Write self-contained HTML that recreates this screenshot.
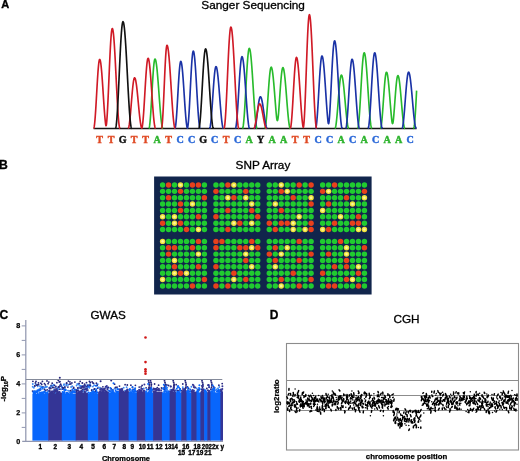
<!DOCTYPE html><html><head><meta charset="utf-8"><style>html,body{margin:0;padding:0;background:#fff;}svg{display:block;will-change:transform;}text{font-family:"Liberation Sans",sans-serif;}.sf{font-family:"Liberation Serif",serif;}</style></head><body>
<svg width="520" height="461" viewBox="0 0 520 461">
<rect width="520" height="461" fill="#fff"/>
<text x="1.3" y="8.1" font-size="11" font-weight="bold" fill="#000" stroke="#000" stroke-width="0.35">A</text>
<text x="-0.9" y="168.8" font-size="12.2" font-weight="bold" fill="#000" stroke="#000" stroke-width="0.3">B</text>
<text x="-0.4" y="319.1" font-size="12.1" font-weight="bold" fill="#000" stroke="#000" stroke-width="0.3">C</text>
<text x="269.7" y="319.1" font-size="12" font-weight="bold" fill="#000" stroke="#000" stroke-width="0.3">D</text>
<text x="201.3" y="9.2" font-size="11" textLength="103.6" lengthAdjust="spacingAndGlyphs" fill="#000" stroke="#000" stroke-width="0.3">Sanger Sequencing</text>
<text x="235.6" y="168.5" font-size="11.1" textLength="54.7" lengthAdjust="spacingAndGlyphs" fill="#000" stroke="#000" stroke-width="0.3">SNP Array</text>
<text x="90.5" y="319.1" font-size="11" textLength="35.3" lengthAdjust="spacingAndGlyphs" fill="#000" stroke="#000" stroke-width="0.3">GWAS</text>
<text x="393.4" y="323.4" font-size="11.6" textLength="26.2" lengthAdjust="spacingAndGlyphs" fill="#000" stroke="#000" stroke-width="0.3">CGH</text>
<line x1="93.6" y1="128.5" x2="416.6" y2="128.5" stroke="#161616" stroke-width="1.6"/>
<path d="M148.80 128.50L149.00 128.32L149.20 127.79L149.40 126.91L149.60 125.68L149.80 124.13L150.00 122.27L150.20 120.12L150.40 117.69L150.60 115.02L150.80 112.13L151.00 109.05L151.20 105.82L151.40 102.46L151.60 99.01L151.80 95.51L152.00 91.99L152.20 88.49L152.40 85.04L152.60 81.68L152.80 78.45L153.00 75.37L153.20 72.48L153.40 69.81L153.60 67.38L153.80 65.23L154.00 63.37L154.20 61.82L154.40 60.59L154.60 59.71L154.80 59.18L155.00 59.00L155.20 59.11L155.40 59.43L155.60 59.96L155.80 60.70L156.00 61.65L156.20 62.79L156.40 64.12L156.60 65.64L156.80 67.33L157.00 69.18L157.20 71.18L157.40 73.32L157.60 75.59L157.80 77.97L158.00 80.45L158.20 83.01L158.40 85.64L158.60 88.31L158.80 91.02L159.00 93.75L159.20 96.48L159.40 99.19L159.60 101.86L159.80 104.49L160.00 107.05L160.20 109.53L160.40 111.91L160.60 114.18L160.80 116.32L161.00 118.32L161.20 120.17L161.40 121.86L161.60 123.38L161.80 124.71L162.00 125.85L162.20 126.80L162.40 127.54L162.60 128.07L162.80 128.39L163.00 128.50M242.40 128.50L242.60 128.36L242.80 127.89L243.00 127.09L243.20 125.98L243.40 124.54L243.60 122.81L243.80 120.79L244.00 118.50L244.20 115.96L244.40 113.20L244.60 110.22L244.80 107.07L245.00 103.76L245.20 100.32L245.40 96.78L245.60 93.17L245.80 89.53L246.00 85.87L246.20 82.24L246.40 78.66L246.60 75.16L246.80 71.77L247.00 68.52L247.20 65.44L247.40 62.54L247.60 59.87L247.80 57.43L248.00 55.25L248.20 53.34L248.40 51.73L248.60 50.43L248.80 49.44L249.00 48.77L249.20 48.44L249.40 48.43L249.60 48.68L249.80 49.19L250.00 49.93L250.20 50.93L250.40 52.15L250.60 53.61L250.80 55.29L251.00 57.17L251.20 59.25L251.40 61.52L251.60 63.95L251.80 66.54L252.00 69.27L252.20 72.11L252.40 75.06L252.60 78.10L252.80 81.20L253.00 84.34L253.20 87.51L253.40 90.69L253.60 93.85L253.80 96.98L254.00 100.06L254.20 103.06L254.40 105.97L254.60 108.77L254.80 111.44L255.00 113.97L255.20 116.33L255.40 118.52L255.60 120.53L255.80 122.33L256.00 123.91L256.20 125.28L256.40 126.41L256.60 127.30L256.80 127.95L257.00 128.35L257.20 128.50M264.80 128.50L265.00 128.16L265.20 127.58L265.40 126.72L265.60 125.59L265.80 124.21L266.00 122.58L266.20 120.72L266.40 118.64L266.60 116.38L266.80 113.94L267.00 111.35L267.20 108.63L267.40 105.82L267.60 102.93L267.80 99.99L268.00 97.04L268.20 94.09L268.40 91.17L268.60 88.32L268.80 85.56L269.00 82.91L269.20 80.40L269.40 78.05L269.60 75.89L269.80 73.93L270.00 72.20L270.20 70.70L270.40 69.46L270.60 68.48L270.80 67.77L271.00 67.34L271.20 67.20L271.40 67.31L271.60 67.63L271.80 68.17L272.00 68.91L272.20 69.86L272.40 71.00L272.60 72.33L272.80 73.85L273.00 75.53L273.20 77.37L273.40 79.35L273.60 81.46L273.80 83.69L274.00 86.02L274.20 88.43L274.40 90.90L274.60 93.43L274.80 95.99L275.00 98.56L275.20 101.12L275.40 103.66L275.60 106.17L275.80 108.61L276.00 110.97L276.20 113.25L276.40 115.42L276.60 117.30L276.80 118.77L277.00 119.81L277.20 120.41L277.40 120.58L277.60 120.31L277.80 119.61L278.00 118.49L278.20 116.96L278.40 115.04L278.60 112.74L278.80 110.13L279.00 107.38L279.20 104.54L279.40 101.64L279.60 98.71L279.80 95.77L280.00 92.86L280.20 89.99L280.40 87.20L280.60 84.51L280.80 81.94L281.00 79.53L281.20 77.28L281.40 75.24L281.60 73.40L281.80 71.79L282.00 70.43L282.20 69.32L282.40 68.48L282.60 67.92L282.80 67.64L283.00 67.63L283.20 67.84L283.40 68.27L283.60 68.90L283.80 69.74L284.00 70.78L284.20 72.02L284.40 73.43L284.60 75.02L284.80 76.77L285.00 78.67L285.20 80.70L285.40 82.86L285.60 85.13L285.80 87.48L286.00 89.91L286.20 92.40L286.40 94.93L286.60 97.48L286.80 100.03L287.00 102.57L287.20 105.07L287.40 107.53L287.60 109.92L287.80 112.23L288.00 114.44L288.20 116.53L288.40 118.49L288.60 120.31L288.80 121.98L289.00 123.47L289.20 124.79L289.40 125.91L289.60 126.84L289.80 127.57L290.00 128.09L290.20 128.40L290.40 128.50M335.00 128.50L335.20 128.20L335.40 127.70L335.60 126.95L335.80 125.97L336.00 124.76L336.20 123.34L336.40 121.72L336.60 119.91L336.80 117.94L337.00 115.81L337.20 113.56L337.40 111.19L337.60 108.74L337.80 106.22L338.00 103.67L338.20 101.09L338.40 98.52L338.60 95.98L338.80 93.50L339.00 91.09L339.20 88.79L339.40 86.60L339.60 84.56L339.80 82.67L340.00 80.97L340.20 79.45L340.40 78.15L340.60 77.07L340.80 76.21L341.00 75.60L341.20 75.22L341.40 75.10L341.60 75.19L341.80 75.47L342.00 75.94L342.20 76.59L342.40 77.41L342.60 78.41L342.80 79.57L343.00 80.89L343.20 82.35L343.40 83.96L343.60 85.68L343.80 87.52L344.00 89.46L344.20 91.49L344.40 93.59L344.60 95.75L344.80 97.95L345.00 100.18L345.20 102.42L345.40 104.65L345.60 106.86L345.80 109.04L346.00 111.17L346.20 113.23L346.40 115.21L346.60 117.10L346.80 118.88L347.00 120.54L347.20 122.07L347.40 123.45L347.60 124.69L347.80 125.76L348.00 126.66L348.20 127.39L348.40 127.94L348.60 128.30L348.80 128.50M357.60 128.50L357.80 128.14L358.00 127.48L358.20 126.50L358.40 125.20L358.60 123.61L358.80 121.72L359.00 119.55L359.20 117.14L359.40 114.49L359.60 111.63L359.80 108.58L360.00 105.38L360.20 102.05L360.40 98.62L360.60 95.11L360.80 91.57L361.00 88.02L361.20 84.50L361.40 81.03L361.60 77.64L361.80 74.36L362.00 71.24L362.20 68.28L362.40 65.51L362.60 62.97L362.80 60.68L363.00 58.64L363.20 56.89L363.40 55.43L363.60 54.29L363.80 53.46L364.00 52.97L364.20 52.80L364.40 52.93L364.60 53.30L364.80 53.93L365.00 54.80L365.20 55.90L365.40 57.24L365.60 58.80L365.80 60.57L366.00 62.55L366.20 64.71L366.40 67.04L366.60 69.53L366.80 72.15L367.00 74.91L367.20 77.76L367.40 80.70L367.60 83.71L367.80 86.77L368.00 89.85L368.20 92.93L368.40 96.00L368.60 99.04L368.80 102.02L369.00 104.92L369.20 107.73L369.40 110.42L369.60 112.99L369.80 115.40L370.00 117.65L370.20 119.72L370.40 121.60L370.60 123.27L370.80 124.73L371.00 125.96L371.20 126.95L371.40 127.70L371.60 128.21L371.80 128.50M380.40 128.50L380.60 128.29L380.80 127.80L381.00 127.01L381.20 125.95L381.40 124.62L381.60 123.04L381.80 121.21L382.00 119.17L382.20 116.94L382.40 114.52L382.60 111.97L382.80 109.28L383.00 106.51L383.20 103.67L383.40 100.80L383.60 97.92L383.80 95.07L384.00 92.27L384.20 89.55L384.40 86.95L384.60 84.49L384.80 82.20L385.00 80.10L385.20 78.20L385.40 76.54L385.60 75.13L385.80 73.99L386.00 73.12L386.20 72.53L386.40 72.24L386.60 72.23L386.80 72.45L387.00 72.89L387.20 73.55L387.40 74.43L387.60 75.50L387.80 76.78L388.00 78.24L388.20 79.87L388.40 81.67L388.60 83.62L388.80 85.69L389.00 87.89L389.20 90.18L389.40 92.55L389.60 94.99L389.80 97.46L390.00 99.96L390.20 102.46L390.40 104.95L390.60 107.40L390.80 109.79L391.00 112.11L391.20 114.34L391.40 116.45L391.60 118.44L391.80 120.28L392.00 121.78L392.20 122.83L392.40 123.42L392.60 123.57L392.80 123.25L393.00 122.49L393.20 121.29L393.40 119.66L393.60 117.63L393.80 115.37L394.00 112.96L394.20 110.44L394.40 107.84L394.60 105.17L394.80 102.47L395.00 99.76L395.20 97.08L395.40 94.46L395.60 91.91L395.80 89.46L396.00 87.15L396.20 85.00L396.40 83.02L396.60 81.24L396.80 79.68L397.00 78.36L397.20 77.28L397.40 76.46L397.60 75.91L397.80 75.63L398.00 75.63L398.20 75.84L398.40 76.25L398.60 76.87L398.80 77.69L399.00 78.70L399.20 79.90L399.40 81.27L399.60 82.81L399.80 84.50L400.00 86.33L400.20 88.28L400.40 90.34L400.60 92.49L400.80 94.72L401.00 97.01L401.20 99.34L401.40 101.69L401.60 104.04L401.80 106.37L402.00 108.67L402.20 110.92L402.40 113.10L402.60 115.19L402.80 117.18L403.00 119.05L403.20 120.78L403.40 122.37L403.60 123.79L403.80 125.04L404.00 126.11L404.20 126.99L404.40 127.68L404.60 128.16L404.80 128.43L405.00 128.50M413.40 128.50L413.60 128.44L413.80 128.04L414.00 127.27L414.20 126.13L414.40 124.63L414.60 122.79L414.80 120.62L415.00 118.15L415.20 115.39L415.40 112.38L415.60 109.14L415.80 105.70L416.00 102.09L416.20 98.34L416.40 94.50L416.60 90.60" fill="none" stroke="#28bb2c" stroke-width="1.65" stroke-linejoin="round"/>
<path d="M174.80 128.50L175.00 128.39L175.20 127.92L175.40 127.09L175.60 125.89L175.80 124.35L176.00 122.49L176.20 120.31L176.40 117.86L176.60 115.15L176.80 112.21L177.00 109.09L177.20 105.80L177.40 102.40L177.60 98.91L177.80 95.37L178.00 91.84L178.20 88.34L178.40 84.91L178.60 81.59L178.80 78.42L179.00 75.44L179.20 72.67L179.40 70.15L179.60 67.91L179.80 65.97L180.00 64.35L180.20 63.07L180.40 62.14L180.60 61.59L180.80 61.40L181.00 61.54L181.20 61.96L181.40 62.66L181.60 63.63L181.80 64.87L182.00 66.36L182.20 68.09L182.40 70.04L182.60 72.20L182.80 74.56L183.00 77.09L183.20 79.76L183.40 82.57L183.60 85.48L183.80 88.47L184.00 91.51L184.20 94.58L184.40 97.66L184.60 100.71L184.80 103.71L185.00 106.64L185.20 109.48L185.40 112.18L185.60 114.75L185.80 117.15L186.00 119.36L186.20 121.37L186.40 123.15L186.60 124.70L186.80 125.99L187.00 127.03L187.20 127.79L187.40 128.17L187.60 127.87L187.80 126.96L188.00 125.64L188.20 123.93L188.40 121.85L188.60 119.42L188.80 116.68L189.00 113.65L189.20 110.36L189.40 106.84L189.60 103.15L189.80 99.31L190.00 95.36L190.20 91.36L190.40 87.34L190.60 83.34L190.80 79.42L191.00 75.61L191.20 71.95L191.40 68.48L191.60 65.25L191.80 62.28L192.00 59.60L192.20 57.25L192.40 55.26L192.60 53.63L192.80 52.40L193.00 51.57L193.20 51.15L193.40 51.14L193.60 51.45L193.80 52.08L194.00 53.02L194.20 54.25L194.40 55.78L194.60 57.58L194.80 59.65L195.00 61.96L195.20 64.50L195.40 67.24L195.60 70.17L195.80 73.26L196.00 76.49L196.20 79.82L196.40 83.23L196.60 86.70L196.80 90.19L197.00 93.68L197.20 97.14L197.40 100.54L197.60 103.85L197.80 107.05L198.00 110.10L198.20 112.99L198.40 115.69L198.60 118.18L198.80 120.44L199.00 122.45L199.20 124.19L199.40 125.65L199.60 126.82L199.80 127.69L200.00 128.24L200.20 128.50M209.60 128.50L209.80 128.15L210.00 127.57L210.20 126.70L210.40 125.56L210.60 124.16L210.80 122.52L211.00 120.64L211.20 118.55L211.40 116.26L211.60 113.79L211.80 111.18L212.00 108.44L212.20 105.60L212.40 102.68L212.60 99.71L212.80 96.73L213.00 93.75L213.20 90.81L213.40 87.93L213.60 85.14L213.80 82.46L214.00 79.93L214.20 77.56L214.40 75.38L214.60 73.40L214.80 71.65L215.00 70.13L215.20 68.88L215.40 67.89L215.60 67.17L215.80 66.74L216.00 66.60L216.20 66.71L216.40 67.03L216.60 67.57L216.80 68.33L217.00 69.28L217.20 70.44L217.40 71.78L217.60 73.31L217.80 75.01L218.00 76.87L218.20 78.87L218.40 81.00L218.60 83.25L218.80 85.60L219.00 88.04L219.20 90.54L219.40 93.09L219.60 95.67L219.80 98.26L220.00 100.85L220.20 103.42L220.40 105.95L220.60 108.41L220.80 110.80L221.00 113.10L221.20 115.29L221.40 117.35L221.60 119.27L221.80 121.04L222.00 122.65L222.20 124.08L222.40 125.32L222.60 126.37L222.80 127.21L223.00 127.85L223.20 128.27L223.40 128.50M235.40 128.50L235.60 128.15L235.80 127.53L236.00 126.60L236.20 125.37L236.40 123.86L236.60 122.07L236.80 120.01L237.00 117.72L237.20 115.21L237.40 112.50L237.60 109.61L237.80 106.57L238.00 103.41L238.20 100.16L238.40 96.83L238.60 93.48L238.80 90.11L239.00 86.76L239.20 83.47L239.40 80.26L239.60 77.15L239.80 74.19L240.00 71.38L240.20 68.76L240.40 66.35L240.60 64.17L240.80 62.24L241.00 60.58L241.20 59.20L241.40 58.11L241.60 57.33L241.80 56.86L242.00 56.70L242.20 56.82L242.40 57.18L242.60 57.77L242.80 58.59L243.00 59.64L243.20 60.91L243.40 62.39L243.60 64.07L243.80 65.94L244.00 67.99L244.20 70.20L244.40 72.56L244.60 75.06L244.80 77.67L245.00 80.38L245.20 83.17L245.40 86.02L245.60 88.92L245.80 91.84L246.00 94.77L246.20 97.68L246.40 100.56L246.60 103.38L246.80 106.14L247.00 108.80L247.20 111.36L247.40 113.79L247.60 116.08L247.80 118.21L248.00 120.18L248.20 121.96L248.40 123.54L248.60 124.92L248.80 126.09L249.00 127.03L249.20 127.74L249.40 128.22L249.60 128.50M254.40 128.50L254.60 128.37L254.80 128.08L255.00 127.62L255.20 127.00L255.40 126.22L255.60 125.30L255.80 124.24L256.00 123.05L256.20 121.76L256.40 120.36L256.60 118.88L256.80 117.34L257.00 115.74L257.20 114.11L257.40 112.46L257.60 110.82L257.80 109.20L258.00 107.61L258.20 106.08L258.40 104.62L258.60 103.24L258.80 101.97L259.00 100.81L259.20 99.78L259.40 98.89L259.60 98.15L259.80 97.56L260.00 97.14L260.20 96.89L260.40 96.80L260.60 96.86L260.80 97.06L261.00 97.38L261.20 97.82L261.40 98.39L261.60 99.07L261.80 99.87L262.00 100.76L262.20 101.76L262.40 102.84L262.60 104.00L262.80 105.24L263.00 106.53L263.20 107.87L263.40 109.26L263.60 110.67L263.80 112.10L264.00 113.53L264.20 114.95L264.40 116.36L264.60 117.73L264.80 119.07L265.00 120.35L265.20 121.57L265.40 122.71L265.60 123.78L265.80 124.75L266.00 125.62L266.20 126.39L266.40 127.05L266.60 127.59L266.80 128.00L267.00 128.30L267.20 128.50M315.40 128.50L315.60 128.45L315.80 128.10L316.00 127.41L316.20 126.39L316.40 125.06L316.60 123.42L316.80 121.49L317.00 119.29L317.20 116.84L317.40 114.16L317.60 111.28L317.80 108.21L318.00 105.00L318.20 101.67L318.40 98.26L318.60 94.78L318.80 91.29L319.00 87.80L319.20 84.35L319.40 80.98L319.60 77.71L319.80 74.58L320.00 71.61L320.20 68.84L320.40 66.28L320.60 63.96L320.80 61.91L321.00 60.14L321.20 58.67L321.40 57.51L321.60 56.67L321.80 56.17L322.00 56.00L322.20 56.13L322.40 56.51L322.60 57.14L322.80 58.02L323.00 59.14L323.20 60.50L323.40 62.07L323.60 63.86L323.80 65.85L324.00 68.02L324.20 70.37L324.40 72.87L324.60 75.50L324.80 78.25L325.00 81.11L325.20 84.04L325.40 87.02L325.60 90.05L325.80 93.09L326.00 96.12L326.20 99.13L326.40 102.08L326.60 104.97L326.80 107.77L327.00 110.46L327.20 113.02L327.40 115.44L327.60 117.69L327.80 119.77L328.00 121.60L328.20 122.90L328.40 123.60L328.60 123.69L328.80 123.17L329.00 122.07L329.20 120.37L329.40 118.11L329.60 115.33L329.80 112.26L330.00 108.95L330.20 105.42L330.40 101.72L330.60 97.86L330.80 93.88L331.00 89.82L331.20 85.72L331.40 81.61L331.60 77.52L331.80 73.50L332.00 69.58L332.20 65.78L332.40 62.16L332.60 58.73L332.80 55.53L333.00 52.59L333.20 49.92L333.40 47.57L333.60 45.54L333.80 43.85L334.00 42.53L334.20 41.57L334.40 40.99L334.60 40.80L334.80 40.95L335.00 41.38L335.20 42.11L335.40 43.11L335.60 44.40L335.80 45.95L336.00 47.75L336.20 49.81L336.40 52.09L336.60 54.59L336.80 57.29L337.00 60.18L337.20 63.22L337.40 66.41L337.60 69.72L337.80 73.13L338.00 76.61L338.20 80.15L338.40 83.72L338.60 87.29L338.80 90.85L339.00 94.37L339.20 97.82L339.40 101.18L339.60 104.44L339.80 107.56L340.00 110.53L340.20 113.33L340.40 115.93L340.60 118.33L340.80 120.51L341.00 122.45L341.20 124.13L341.40 125.55L341.60 126.71L341.80 127.58L342.00 128.16L342.20 128.50M345.60 128.50L345.80 128.32L346.00 127.82L346.20 127.01L346.40 125.89L346.60 124.47L346.80 122.76L347.00 120.78L347.20 118.56L347.40 116.10L347.60 113.44L347.80 110.59L348.00 107.59L348.20 104.46L348.40 101.23L348.60 97.94L348.80 94.60L349.00 91.26L349.20 87.94L349.40 84.68L349.60 81.50L349.80 78.44L350.00 75.52L350.20 72.77L350.40 70.22L350.60 67.89L350.80 65.80L351.00 63.97L351.20 62.42L351.40 61.16L351.60 60.20L351.80 59.56L352.00 59.24L352.20 59.23L352.40 59.47L352.60 59.96L352.80 60.68L353.00 61.64L353.20 62.82L353.40 64.22L353.60 65.83L353.80 67.64L354.00 69.63L354.20 71.79L354.40 74.11L354.60 76.57L354.80 79.14L355.00 81.82L355.20 84.59L355.40 87.42L355.60 90.30L355.80 93.20L356.00 96.10L356.20 98.99L356.40 101.84L356.60 104.64L356.80 107.36L357.00 109.99L357.20 112.50L357.40 114.88L357.60 117.11L357.80 119.18L358.00 121.08L358.20 122.78L358.40 124.27L358.60 125.56L358.80 126.62L359.00 127.44L359.20 128.04L359.40 128.39L359.60 128.50M368.00 128.50L368.20 128.34L368.40 127.85L368.60 127.03L368.80 125.89L369.00 124.44L369.20 122.70L369.40 120.67L369.60 118.38L369.80 115.84L370.00 113.08L370.20 110.13L370.40 107.00L370.60 103.73L370.80 100.34L371.00 96.87L371.20 93.35L371.40 89.80L371.60 86.26L371.80 82.75L372.00 79.32L372.20 75.99L372.40 72.78L372.60 69.73L372.80 66.87L373.00 64.21L373.20 61.79L373.40 59.62L373.60 57.73L373.80 56.12L374.00 54.82L374.20 53.84L374.40 53.17L374.60 52.84L374.80 52.83L375.00 53.08L375.20 53.58L375.40 54.33L375.60 55.32L375.80 56.54L376.00 58.00L376.20 59.66L376.40 61.54L376.60 63.60L376.80 65.85L377.00 68.26L377.20 70.82L377.40 73.52L377.60 76.32L377.80 79.22L378.00 82.20L378.20 85.24L378.40 88.31L378.60 91.39L378.80 94.47L379.00 97.53L379.20 100.54L379.40 103.48L379.60 106.34L379.80 109.09L380.00 111.72L380.20 114.21L380.40 116.55L380.60 118.71L380.80 120.69L381.00 122.46L381.20 124.03L381.40 125.37L381.60 126.48L381.80 127.36L382.00 127.99L382.20 128.37L382.40 128.50M402.00 128.50L402.20 128.23L402.40 127.74L402.60 127.01L402.80 126.05L403.00 124.86L403.20 123.45L403.40 121.85L403.60 120.05L403.80 118.08L404.00 115.95L404.20 113.69L404.40 111.31L404.60 108.83L404.80 106.28L405.00 103.67L405.20 101.04L405.40 98.40L405.60 95.77L405.80 93.19L406.00 90.67L406.20 88.24L406.40 85.91L406.60 83.71L406.80 81.66L407.00 79.77L407.20 78.06L407.40 76.54L407.60 75.24L407.80 74.16L408.00 73.31L408.20 72.69L408.40 72.32L408.60 72.20L408.80 72.29L409.00 72.57L409.20 73.04L409.40 73.68L409.60 74.51L409.80 75.50L410.00 76.66L410.20 77.98L410.40 79.45L410.60 81.05L410.80 82.79L411.00 84.64L411.20 86.59L411.40 88.64L411.60 90.77L411.80 92.95L412.00 95.19L412.20 97.46L412.40 99.75L412.60 102.05L412.80 104.33L413.00 106.59L413.20 108.80L413.40 110.96L413.60 113.05L413.80 115.06L414.00 116.96L414.20 118.76L414.40 120.43L414.60 121.97L414.80 123.37L415.00 124.61L415.20 125.70L415.40 126.61L415.60 127.35L415.80 127.91L416.00 128.28L416.20 128.50" fill="none" stroke="#1a32a6" stroke-width="1.65" stroke-linejoin="round"/>
<path d="M93.60 128.50L93.80 128.24L94.00 127.64L94.20 126.67L94.40 125.37L94.60 123.74L94.80 121.79L95.00 119.56L95.20 117.05L95.40 114.31L95.60 111.35L95.80 108.21L96.00 104.92L96.20 101.51L96.40 98.03L96.60 94.50L96.80 90.97L97.00 87.46L97.20 84.03L97.40 80.70L97.60 77.51L97.80 74.49L98.00 71.67L98.20 69.09L98.40 66.77L98.60 64.73L98.80 63.00L99.00 61.59L99.20 60.53L99.40 59.81L99.60 59.45L99.80 59.43L100.00 59.71L100.20 60.25L100.40 61.06L100.60 62.13L100.80 63.45L101.00 65.02L101.20 66.81L101.40 68.82L101.60 71.02L101.80 73.41L102.00 75.96L102.20 78.65L102.40 81.47L102.60 84.38L102.80 87.37L103.00 90.41L103.20 93.47L103.40 96.55L103.60 99.60L103.80 102.60L104.00 105.54L104.20 108.39L104.40 111.12L104.60 113.71L104.80 116.15L105.00 118.42L105.20 120.49L105.40 122.35L105.60 123.99L105.80 125.17L106.00 125.67L106.20 125.48L106.40 124.61L106.60 123.05L106.80 120.83L107.00 118.15L107.20 115.13L107.40 111.77L107.60 108.13L107.80 104.23L108.00 100.10L108.20 95.78L108.40 91.30L108.60 86.72L108.80 82.06L109.00 77.37L109.20 72.70L109.40 68.07L109.60 63.53L109.80 59.13L110.00 54.89L110.20 50.87L110.40 47.09L110.60 43.58L110.80 40.38L111.00 37.52L111.20 35.01L111.40 32.89L111.60 31.17L111.80 29.87L112.00 28.99L112.20 28.56L112.40 28.54L112.60 28.87L112.80 29.54L113.00 30.52L113.20 31.83L113.40 33.45L113.60 35.36L113.80 37.57L114.00 40.04L114.20 42.77L114.40 45.74L114.60 48.93L114.80 52.31L115.00 55.87L115.20 59.57L115.40 63.41L115.60 67.34L115.80 71.35L116.00 75.40L116.20 79.48L116.40 83.55L116.60 87.58L116.80 91.56L117.00 95.45L117.20 99.22L117.40 102.86L117.60 106.34L117.80 109.63L118.00 112.71L118.20 115.57L118.40 118.18L118.60 120.53L118.80 122.59L119.00 124.37L119.20 125.84L119.40 126.99L119.60 127.82L119.80 128.33L120.00 128.50M128.20 128.50L128.40 128.22L128.60 127.74L128.80 127.03L129.00 126.09L129.20 124.95L129.40 123.60L129.60 122.06L129.80 120.35L130.00 118.47L130.20 116.46L130.40 114.31L130.60 112.07L130.80 109.74L131.00 107.35L131.20 104.92L131.40 102.48L131.60 100.04L131.80 97.63L132.00 95.27L132.20 92.98L132.40 90.79L132.60 88.72L132.80 86.78L133.00 84.99L133.20 83.37L133.40 81.93L133.60 80.69L133.80 79.67L134.00 78.86L134.20 78.27L134.40 77.92L134.60 77.80L134.80 77.89L135.00 78.16L135.20 78.60L135.40 79.21L135.60 80.00L135.80 80.94L136.00 82.05L136.20 83.30L136.40 84.69L136.60 86.21L136.80 87.85L137.00 89.60L137.20 91.44L137.40 93.36L137.60 95.36L137.80 97.41L138.00 99.49L138.20 101.61L138.40 103.73L138.60 105.86L138.80 107.96L139.00 110.03L139.20 112.05L139.40 114.01L139.60 115.89L139.80 117.68L140.00 119.37L140.20 120.94L140.40 122.39L140.60 123.71L140.80 124.88L141.00 125.90L141.20 126.75L141.40 127.45L141.60 127.97L141.80 128.13L142.00 127.80L142.20 126.99L142.40 125.85L142.60 124.41L142.80 122.68L143.00 120.68L143.20 118.43L143.40 115.94L143.60 113.24L143.80 110.36L144.00 107.32L144.20 104.15L144.40 100.88L144.60 97.54L144.80 94.16L145.00 90.78L145.20 87.42L145.40 84.11L145.60 80.89L145.80 77.79L146.00 74.83L146.20 72.05L146.40 69.46L146.60 67.10L146.80 64.98L147.00 63.13L147.20 61.56L147.40 60.28L147.60 59.32L147.80 58.67L148.00 58.34L148.20 58.33L148.40 58.58L148.60 59.07L148.80 59.80L149.00 60.77L149.20 61.97L149.40 63.39L149.60 65.02L149.80 66.85L150.00 68.87L150.20 71.06L150.40 73.41L150.60 75.89L150.80 78.50L151.00 81.22L151.20 84.02L151.40 86.89L151.60 89.80L151.80 92.74L152.00 95.68L152.20 98.61L152.40 101.50L152.60 104.33L152.80 107.09L153.00 109.75L153.20 112.29L153.40 114.70L153.60 116.97L153.80 119.06L154.00 120.98L154.20 122.70L154.40 124.22L154.60 125.52L154.80 126.59L155.00 127.43L155.20 128.03L155.40 128.39L155.60 128.50M161.40 128.50L161.60 128.24L161.80 127.46L162.00 126.17L162.20 124.38L162.40 122.12L162.60 119.42L162.80 116.32L163.00 112.84L163.20 109.03L163.40 104.95L163.60 100.64L163.80 96.16L164.00 91.56L164.20 86.90L164.40 82.24L164.60 77.64L164.80 73.16L165.00 68.85L165.20 64.77L165.40 60.96L165.60 57.48L165.80 54.38L166.00 51.68L166.20 49.42L166.40 47.63L166.60 46.34L166.80 45.56L167.00 45.30L167.20 45.42L167.40 45.79L167.60 46.39L167.80 47.24L168.00 48.32L168.20 49.62L168.40 51.14L168.60 52.87L168.80 54.81L169.00 56.93L169.20 59.22L169.40 61.68L169.60 64.29L169.80 67.03L170.00 69.88L170.20 72.84L170.40 75.88L170.60 78.98L170.80 82.13L171.00 85.31L171.20 88.49L171.40 91.67L171.60 94.82L171.80 97.92L172.00 100.96L172.20 103.92L172.40 106.77L172.60 109.51L172.80 112.12L173.00 114.58L173.20 116.87L173.40 118.99L173.60 120.93L173.80 122.66L174.00 124.18L174.20 125.48L174.40 126.56L174.60 127.41L174.80 128.01L175.00 128.38L175.20 128.50M224.00 128.50L224.20 128.11L224.40 127.34L224.60 126.17L224.80 124.61L225.00 122.67L225.20 120.37L225.40 117.72L225.60 114.74L225.80 111.47L226.00 107.92L226.20 104.13L226.40 100.13L226.60 95.94L226.80 91.61L227.00 87.17L227.20 82.65L227.40 78.09L227.60 73.52L227.80 69.00L228.00 64.54L228.20 60.19L228.40 55.99L228.60 51.96L228.80 48.14L229.00 44.56L229.20 41.25L229.40 38.24L229.60 35.55L229.80 33.20L230.00 31.21L230.20 29.60L230.40 28.38L230.60 27.56L230.80 27.15L231.00 27.14L231.20 27.45L231.40 28.07L231.60 28.99L231.80 30.21L232.00 31.73L232.20 33.53L232.40 35.59L232.60 37.92L232.80 40.49L233.00 43.29L233.20 46.30L233.40 49.50L233.60 52.88L233.80 56.41L234.00 60.07L234.20 63.84L234.40 67.70L234.60 71.61L234.80 75.57L235.00 79.54L235.20 83.49L235.40 87.42L235.60 91.28L235.80 95.06L236.00 98.74L236.20 102.29L236.40 105.68L236.60 108.91L236.80 111.95L237.00 114.77L237.20 117.37L237.40 119.73L237.60 121.83L237.80 123.66L238.00 125.21L238.20 126.47L238.40 127.43L238.60 128.09L238.80 128.44L239.00 128.50M253.80 128.50L254.00 128.30L254.20 128.01L254.40 127.59L254.60 127.05L254.80 126.39L255.00 125.62L255.20 124.74L255.40 123.78L255.60 122.73L255.80 121.62L256.00 120.44L256.20 119.22L256.40 117.97L256.60 116.70L256.80 115.42L257.00 114.15L257.20 112.90L257.40 111.69L257.60 110.53L257.80 109.42L258.00 108.40L258.20 107.45L258.40 106.60L258.60 105.86L258.80 105.22L259.00 104.70L259.20 104.31L259.40 104.05L259.60 103.92L259.80 103.91L260.00 104.01L260.20 104.21L260.40 104.51L260.60 104.90L260.80 105.39L261.00 105.96L261.20 106.62L261.40 107.35L261.60 108.16L261.80 109.03L262.00 109.96L262.20 110.94L262.40 111.97L262.60 113.03L262.80 114.11L263.00 115.21L263.20 116.33L263.40 117.43L263.60 118.53L263.80 119.61L264.00 120.67L264.20 121.68L264.40 122.65L264.60 123.57L264.80 124.43L265.00 125.22L265.20 125.94L265.40 126.58L265.60 127.13L265.80 127.59L266.00 127.97L266.20 128.24L266.40 128.42L266.60 128.50M290.20 128.50L290.40 128.28L290.60 127.71L290.80 126.81L291.00 125.56L291.20 124.00L291.40 122.13L291.60 119.97L291.80 117.54L292.00 114.88L292.20 111.99L292.40 108.92L292.60 105.69L292.80 102.34L293.00 98.89L293.20 95.39L293.40 91.86L293.60 88.34L293.80 84.86L294.00 81.47L294.20 78.19L294.40 75.05L294.60 72.09L294.80 69.34L295.00 66.82L295.20 64.56L295.40 62.58L295.60 60.89L295.80 59.53L296.00 58.49L296.20 57.79L296.40 57.44L296.60 57.43L296.80 57.70L297.00 58.23L297.20 59.01L297.40 60.05L297.60 61.33L297.80 62.85L298.00 64.60L298.20 66.55L298.40 68.71L298.60 71.04L298.80 73.54L299.00 76.18L299.20 78.94L299.40 81.81L299.60 84.77L299.80 87.78L300.00 90.83L300.20 93.90L300.40 96.96L300.60 99.99L300.80 102.97L301.00 105.88L301.20 108.69L301.40 111.38L301.60 113.93L301.80 116.33L302.00 118.55L302.20 120.58L302.40 122.41L302.60 124.01L302.80 125.39L303.00 126.52L303.20 127.30L303.40 127.30L303.60 126.48L303.80 124.86L304.00 122.61L304.20 119.86L304.40 116.63L304.60 112.96L304.80 108.88L305.00 104.43L305.20 99.66L305.40 94.61L305.60 89.33L305.80 83.88L306.00 78.31L306.20 72.67L306.40 67.03L306.60 61.42L306.80 55.92L307.00 50.57L307.20 45.43L307.40 40.55L307.60 35.97L307.80 31.75L308.00 27.92L308.20 24.51L308.40 21.58L308.60 19.13L308.80 17.21L309.00 15.82L309.20 14.98L309.40 14.70L309.60 14.91L309.80 15.55L310.00 16.60L310.20 18.06L310.40 19.92L310.60 22.17L310.80 24.78L311.00 27.75L311.20 31.04L311.40 34.63L311.60 38.50L311.80 42.61L312.00 46.94L312.20 51.46L312.40 56.12L312.60 60.90L312.80 65.76L313.00 70.67L313.20 75.58L313.40 80.46L313.60 85.27L313.80 89.98L314.00 94.56L314.20 98.97L314.40 103.17L314.60 107.13L314.80 110.83L315.00 114.24L315.20 117.33L315.40 120.08L315.60 122.47L315.80 124.48L316.00 126.09L316.20 127.30L316.40 128.10L316.60 128.50" fill="none" stroke="#d01a26" stroke-width="1.65" stroke-linejoin="round"/>
<path d="M115.40 128.50L115.60 128.27L115.80 127.68L116.00 126.73L116.20 125.44L116.40 123.80L116.60 121.83L116.80 119.55L117.00 116.96L117.20 114.09L117.40 110.96L117.60 107.58L117.80 103.98L118.00 100.18L118.20 96.22L118.40 92.11L118.60 87.89L118.80 83.58L119.00 79.21L119.20 74.81L119.40 70.42L119.60 66.06L119.80 61.76L120.00 57.55L120.20 53.46L120.40 49.51L120.60 45.74L120.80 42.17L121.00 38.82L121.20 35.72L121.40 32.89L121.60 30.34L121.80 28.09L122.00 26.17L122.20 24.57L122.40 23.32L122.60 22.42L122.80 21.88L123.00 21.70L123.20 21.84L123.40 22.25L123.60 22.93L123.80 23.88L124.00 25.09L124.20 26.55L124.40 28.27L124.60 30.23L124.80 32.41L125.00 34.82L125.20 37.43L125.40 40.23L125.60 43.22L125.80 46.36L126.00 49.66L126.20 53.08L126.40 56.62L126.60 60.25L126.80 63.96L127.00 67.72L127.20 71.53L127.40 75.35L127.60 79.17L127.80 82.97L128.00 86.73L128.20 90.43L128.40 94.05L128.60 97.57L128.80 100.98L129.00 104.25L129.20 107.38L129.40 110.34L129.60 113.12L129.80 115.71L130.00 118.08L130.20 120.24L130.40 122.17L130.60 123.85L130.80 125.29L131.00 126.46L131.20 127.38L131.40 128.02L131.60 128.40L131.80 128.50M198.80 128.50L199.00 128.17L199.20 127.54L199.40 126.59L199.60 125.32L199.80 123.74L200.00 121.88L200.20 119.73L200.40 117.33L200.60 114.69L200.80 111.84L201.00 108.79L201.20 105.57L201.40 102.22L201.60 98.75L201.80 95.19L202.00 91.59L202.20 87.96L202.40 84.33L202.60 80.74L202.80 77.22L203.00 73.79L203.20 70.49L203.40 67.34L203.60 64.37L203.80 61.60L204.00 59.05L204.20 56.76L204.40 54.72L204.60 52.98L204.80 51.52L205.00 50.38L205.20 49.56L205.40 49.07L205.60 48.90L205.80 49.03L206.00 49.40L206.20 50.02L206.40 50.89L206.60 51.99L206.80 53.33L207.00 54.88L207.20 56.65L207.40 58.63L207.60 60.79L207.80 63.12L208.00 65.62L208.20 68.26L208.40 71.04L208.60 73.92L208.80 76.89L209.00 79.94L209.20 83.05L209.40 86.19L209.60 89.35L209.80 92.50L210.00 95.63L210.20 98.71L210.40 101.74L210.60 104.68L210.80 107.51L211.00 110.24L211.20 112.82L211.40 115.25L211.60 117.52L211.80 119.61L212.00 121.50L212.20 123.18L212.40 124.65L212.60 125.89L212.80 126.90L213.00 127.66L213.20 128.18L213.40 128.50" fill="none" stroke="#111111" stroke-width="1.65" stroke-linejoin="round"/>
<text class="sf" x="99.60" y="143.3" font-size="10.1" font-weight="bold" text-anchor="middle" fill="#e04a24" stroke="#e04a24" stroke-width="0.45">T</text>
<text class="sf" x="111.10" y="143.3" font-size="10.1" font-weight="bold" text-anchor="middle" fill="#e04a24" stroke="#e04a24" stroke-width="0.45">T</text>
<text class="sf" x="122.60" y="143.3" font-size="10.1" font-weight="bold" text-anchor="middle" fill="#111" stroke="#111" stroke-width="0.45">G</text>
<text class="sf" x="134.10" y="143.3" font-size="10.1" font-weight="bold" text-anchor="middle" fill="#e04a24" stroke="#e04a24" stroke-width="0.45">T</text>
<text class="sf" x="145.60" y="143.3" font-size="10.1" font-weight="bold" text-anchor="middle" fill="#e04a24" stroke="#e04a24" stroke-width="0.45">T</text>
<text class="sf" x="157.10" y="143.3" font-size="10.1" font-weight="bold" text-anchor="middle" fill="#2fb42f" stroke="#2fb42f" stroke-width="0.45">A</text>
<text class="sf" x="168.60" y="143.3" font-size="10.1" font-weight="bold" text-anchor="middle" fill="#e04a24" stroke="#e04a24" stroke-width="0.45">T</text>
<text class="sf" x="180.10" y="143.3" font-size="10.1" font-weight="bold" text-anchor="middle" fill="#2a68d8" stroke="#2a68d8" stroke-width="0.45">C</text>
<text class="sf" x="191.60" y="143.3" font-size="10.1" font-weight="bold" text-anchor="middle" fill="#2a68d8" stroke="#2a68d8" stroke-width="0.45">C</text>
<text class="sf" x="203.10" y="143.3" font-size="10.1" font-weight="bold" text-anchor="middle" fill="#111" stroke="#111" stroke-width="0.45">G</text>
<text class="sf" x="214.60" y="143.3" font-size="10.1" font-weight="bold" text-anchor="middle" fill="#2a68d8" stroke="#2a68d8" stroke-width="0.45">C</text>
<text class="sf" x="226.10" y="143.3" font-size="10.1" font-weight="bold" text-anchor="middle" fill="#e04a24" stroke="#e04a24" stroke-width="0.45">T</text>
<text class="sf" x="237.60" y="143.3" font-size="10.1" font-weight="bold" text-anchor="middle" fill="#2a68d8" stroke="#2a68d8" stroke-width="0.45">C</text>
<text class="sf" x="249.10" y="143.3" font-size="10.1" font-weight="bold" text-anchor="middle" fill="#2fb42f" stroke="#2fb42f" stroke-width="0.45">A</text>
<text class="sf" x="260.60" y="143.3" font-size="10.1" font-weight="bold" text-anchor="middle" fill="#111" stroke="#111" stroke-width="0.45">Y</text>
<text class="sf" x="272.10" y="143.3" font-size="10.1" font-weight="bold" text-anchor="middle" fill="#2fb42f" stroke="#2fb42f" stroke-width="0.45">A</text>
<text class="sf" x="283.60" y="143.3" font-size="10.1" font-weight="bold" text-anchor="middle" fill="#2fb42f" stroke="#2fb42f" stroke-width="0.45">A</text>
<text class="sf" x="295.10" y="143.3" font-size="10.1" font-weight="bold" text-anchor="middle" fill="#e04a24" stroke="#e04a24" stroke-width="0.45">T</text>
<text class="sf" x="306.60" y="143.3" font-size="10.1" font-weight="bold" text-anchor="middle" fill="#e04a24" stroke="#e04a24" stroke-width="0.45">T</text>
<text class="sf" x="318.10" y="143.3" font-size="10.1" font-weight="bold" text-anchor="middle" fill="#2a68d8" stroke="#2a68d8" stroke-width="0.45">C</text>
<text class="sf" x="329.60" y="143.3" font-size="10.1" font-weight="bold" text-anchor="middle" fill="#2a68d8" stroke="#2a68d8" stroke-width="0.45">C</text>
<text class="sf" x="341.10" y="143.3" font-size="10.1" font-weight="bold" text-anchor="middle" fill="#2fb42f" stroke="#2fb42f" stroke-width="0.45">A</text>
<text class="sf" x="352.60" y="143.3" font-size="10.1" font-weight="bold" text-anchor="middle" fill="#2a68d8" stroke="#2a68d8" stroke-width="0.45">C</text>
<text class="sf" x="364.10" y="143.3" font-size="10.1" font-weight="bold" text-anchor="middle" fill="#2fb42f" stroke="#2fb42f" stroke-width="0.45">A</text>
<text class="sf" x="375.60" y="143.3" font-size="10.1" font-weight="bold" text-anchor="middle" fill="#2a68d8" stroke="#2a68d8" stroke-width="0.45">C</text>
<text class="sf" x="387.10" y="143.3" font-size="10.1" font-weight="bold" text-anchor="middle" fill="#2fb42f" stroke="#2fb42f" stroke-width="0.45">A</text>
<text class="sf" x="398.60" y="143.3" font-size="10.1" font-weight="bold" text-anchor="middle" fill="#2fb42f" stroke="#2fb42f" stroke-width="0.45">A</text>
<text class="sf" x="410.10" y="143.3" font-size="10.1" font-weight="bold" text-anchor="middle" fill="#2a68d8" stroke="#2a68d8" stroke-width="0.45">C</text>
<rect x="154.1" y="176.5" width="217.5" height="118" fill="#11254c"/>
<circle cx="162.60" cy="185.00" r="2.72" fill="#20cb30"/>
<circle cx="168.57" cy="185.00" r="2.72" fill="#e8401c"/>
<circle cx="174.54" cy="185.00" r="2.72" fill="#20cb30"/>
<circle cx="180.51" cy="185.00" r="2.72" fill="#f0e23a"/>
<circle cx="180.51" cy="185.00" r="1.3" fill="#fbf5a0"/>
<circle cx="186.48" cy="185.00" r="2.72" fill="#20cb30"/>
<circle cx="192.45" cy="185.00" r="2.72" fill="#e8401c"/>
<circle cx="198.42" cy="185.00" r="2.72" fill="#e8401c"/>
<circle cx="204.39" cy="185.00" r="2.72" fill="#20cb30"/>
<circle cx="162.60" cy="191.36" r="2.72" fill="#20cb30"/>
<circle cx="168.57" cy="191.36" r="2.72" fill="#20cb30"/>
<circle cx="174.54" cy="191.36" r="2.72" fill="#20cb30"/>
<circle cx="180.51" cy="191.36" r="2.72" fill="#e8401c"/>
<circle cx="186.48" cy="191.36" r="2.72" fill="#20cb30"/>
<circle cx="192.45" cy="191.36" r="2.72" fill="#20cb30"/>
<circle cx="198.42" cy="191.36" r="2.72" fill="#20cb30"/>
<circle cx="204.39" cy="191.36" r="2.72" fill="#20cb30"/>
<circle cx="162.60" cy="197.72" r="2.72" fill="#20cb30"/>
<circle cx="168.57" cy="197.72" r="2.72" fill="#e8401c"/>
<circle cx="174.54" cy="197.72" r="2.72" fill="#20cb30"/>
<circle cx="180.51" cy="197.72" r="2.72" fill="#20cb30"/>
<circle cx="186.48" cy="197.72" r="2.72" fill="#20cb30"/>
<circle cx="192.45" cy="197.72" r="2.72" fill="#20cb30"/>
<circle cx="198.42" cy="197.72" r="2.72" fill="#20cb30"/>
<circle cx="204.39" cy="197.72" r="2.72" fill="#e8401c"/>
<circle cx="162.60" cy="204.08" r="2.72" fill="#20cb30"/>
<circle cx="168.57" cy="204.08" r="2.72" fill="#20cb30"/>
<circle cx="174.54" cy="204.08" r="2.72" fill="#20cb30"/>
<circle cx="180.51" cy="204.08" r="2.72" fill="#e8401c"/>
<circle cx="186.48" cy="204.08" r="2.72" fill="#20cb30"/>
<circle cx="192.45" cy="204.08" r="2.72" fill="#f0e23a"/>
<circle cx="192.45" cy="204.08" r="1.3" fill="#fbf5a0"/>
<circle cx="198.42" cy="204.08" r="2.72" fill="#20cb30"/>
<circle cx="204.39" cy="204.08" r="2.72" fill="#20cb30"/>
<circle cx="162.60" cy="210.44" r="2.72" fill="#20cb30"/>
<circle cx="168.57" cy="210.44" r="2.72" fill="#20cb30"/>
<circle cx="174.54" cy="210.44" r="2.72" fill="#20cb30"/>
<circle cx="180.51" cy="210.44" r="2.72" fill="#e8401c"/>
<circle cx="186.48" cy="210.44" r="2.72" fill="#20cb30"/>
<circle cx="192.45" cy="210.44" r="2.72" fill="#20cb30"/>
<circle cx="198.42" cy="210.44" r="2.72" fill="#20cb30"/>
<circle cx="204.39" cy="210.44" r="2.72" fill="#20cb30"/>
<circle cx="162.60" cy="216.80" r="2.72" fill="#f0e23a"/>
<circle cx="162.60" cy="216.80" r="1.3" fill="#fbf5a0"/>
<circle cx="168.57" cy="216.80" r="2.72" fill="#20cb30"/>
<circle cx="174.54" cy="216.80" r="2.72" fill="#f0e23a"/>
<circle cx="174.54" cy="216.80" r="1.3" fill="#fbf5a0"/>
<circle cx="180.51" cy="216.80" r="2.72" fill="#20cb30"/>
<circle cx="186.48" cy="216.80" r="2.72" fill="#20cb30"/>
<circle cx="192.45" cy="216.80" r="2.72" fill="#20cb30"/>
<circle cx="198.42" cy="216.80" r="2.72" fill="#e8401c"/>
<circle cx="204.39" cy="216.80" r="2.72" fill="#20cb30"/>
<circle cx="162.60" cy="223.16" r="2.72" fill="#e8401c"/>
<circle cx="168.57" cy="223.16" r="2.72" fill="#20cb30"/>
<circle cx="174.54" cy="223.16" r="2.72" fill="#f0e23a"/>
<circle cx="174.54" cy="223.16" r="1.3" fill="#fbf5a0"/>
<circle cx="180.51" cy="223.16" r="2.72" fill="#e8401c"/>
<circle cx="186.48" cy="223.16" r="2.72" fill="#20cb30"/>
<circle cx="192.45" cy="223.16" r="2.72" fill="#20cb30"/>
<circle cx="198.42" cy="223.16" r="2.72" fill="#20cb30"/>
<circle cx="204.39" cy="223.16" r="2.72" fill="#20cb30"/>
<circle cx="162.60" cy="229.52" r="2.72" fill="#20cb30"/>
<circle cx="168.57" cy="229.52" r="2.72" fill="#20cb30"/>
<circle cx="174.54" cy="229.52" r="2.72" fill="#20cb30"/>
<circle cx="180.51" cy="229.52" r="2.72" fill="#20cb30"/>
<circle cx="186.48" cy="229.52" r="2.72" fill="#e8401c"/>
<circle cx="192.45" cy="229.52" r="2.72" fill="#20cb30"/>
<circle cx="198.42" cy="229.52" r="2.72" fill="#f0e23a"/>
<circle cx="198.42" cy="229.52" r="1.3" fill="#fbf5a0"/>
<circle cx="204.39" cy="229.52" r="2.72" fill="#20cb30"/>
<circle cx="215.95" cy="185.00" r="2.72" fill="#20cb30"/>
<circle cx="221.92" cy="185.00" r="2.72" fill="#20cb30"/>
<circle cx="227.89" cy="185.00" r="2.72" fill="#e8401c"/>
<circle cx="233.86" cy="185.00" r="2.72" fill="#f0e23a"/>
<circle cx="233.86" cy="185.00" r="1.3" fill="#fbf5a0"/>
<circle cx="239.83" cy="185.00" r="2.72" fill="#20cb30"/>
<circle cx="245.80" cy="185.00" r="2.72" fill="#20cb30"/>
<circle cx="251.77" cy="185.00" r="2.72" fill="#20cb30"/>
<circle cx="257.74" cy="185.00" r="2.72" fill="#20cb30"/>
<circle cx="215.95" cy="191.36" r="2.72" fill="#e8401c"/>
<circle cx="221.92" cy="191.36" r="2.72" fill="#20cb30"/>
<circle cx="227.89" cy="191.36" r="2.72" fill="#20cb30"/>
<circle cx="233.86" cy="191.36" r="2.72" fill="#20cb30"/>
<circle cx="239.83" cy="191.36" r="2.72" fill="#20cb30"/>
<circle cx="245.80" cy="191.36" r="2.72" fill="#e8401c"/>
<circle cx="251.77" cy="191.36" r="2.72" fill="#20cb30"/>
<circle cx="257.74" cy="191.36" r="2.72" fill="#20cb30"/>
<circle cx="215.95" cy="197.72" r="2.72" fill="#20cb30"/>
<circle cx="221.92" cy="197.72" r="2.72" fill="#20cb30"/>
<circle cx="227.89" cy="197.72" r="2.72" fill="#f0e23a"/>
<circle cx="227.89" cy="197.72" r="1.3" fill="#fbf5a0"/>
<circle cx="233.86" cy="197.72" r="2.72" fill="#e8401c"/>
<circle cx="239.83" cy="197.72" r="2.72" fill="#20cb30"/>
<circle cx="245.80" cy="197.72" r="2.72" fill="#f0e23a"/>
<circle cx="245.80" cy="197.72" r="1.3" fill="#fbf5a0"/>
<circle cx="251.77" cy="197.72" r="2.72" fill="#20cb30"/>
<circle cx="257.74" cy="197.72" r="2.72" fill="#20cb30"/>
<circle cx="215.95" cy="204.08" r="2.72" fill="#20cb30"/>
<circle cx="221.92" cy="204.08" r="2.72" fill="#20cb30"/>
<circle cx="227.89" cy="204.08" r="2.72" fill="#20cb30"/>
<circle cx="233.86" cy="204.08" r="2.72" fill="#20cb30"/>
<circle cx="239.83" cy="204.08" r="2.72" fill="#20cb30"/>
<circle cx="245.80" cy="204.08" r="2.72" fill="#20cb30"/>
<circle cx="251.77" cy="204.08" r="2.72" fill="#f0e23a"/>
<circle cx="251.77" cy="204.08" r="1.3" fill="#fbf5a0"/>
<circle cx="257.74" cy="204.08" r="2.72" fill="#20cb30"/>
<circle cx="215.95" cy="210.44" r="2.72" fill="#20cb30"/>
<circle cx="221.92" cy="210.44" r="2.72" fill="#20cb30"/>
<circle cx="227.89" cy="210.44" r="2.72" fill="#e8401c"/>
<circle cx="233.86" cy="210.44" r="2.72" fill="#20cb30"/>
<circle cx="239.83" cy="210.44" r="2.72" fill="#20cb30"/>
<circle cx="245.80" cy="210.44" r="2.72" fill="#20cb30"/>
<circle cx="251.77" cy="210.44" r="2.72" fill="#e8401c"/>
<circle cx="257.74" cy="210.44" r="2.72" fill="#20cb30"/>
<circle cx="215.95" cy="216.80" r="2.72" fill="#e8401c"/>
<circle cx="221.92" cy="216.80" r="2.72" fill="#20cb30"/>
<circle cx="227.89" cy="216.80" r="2.72" fill="#20cb30"/>
<circle cx="233.86" cy="216.80" r="2.72" fill="#20cb30"/>
<circle cx="239.83" cy="216.80" r="2.72" fill="#20cb30"/>
<circle cx="245.80" cy="216.80" r="2.72" fill="#20cb30"/>
<circle cx="251.77" cy="216.80" r="2.72" fill="#20cb30"/>
<circle cx="257.74" cy="216.80" r="2.72" fill="#e8401c"/>
<circle cx="215.95" cy="223.16" r="2.72" fill="#20cb30"/>
<circle cx="221.92" cy="223.16" r="2.72" fill="#20cb30"/>
<circle cx="227.89" cy="223.16" r="2.72" fill="#20cb30"/>
<circle cx="233.86" cy="223.16" r="2.72" fill="#f0e23a"/>
<circle cx="233.86" cy="223.16" r="1.3" fill="#fbf5a0"/>
<circle cx="239.83" cy="223.16" r="2.72" fill="#e8401c"/>
<circle cx="245.80" cy="223.16" r="2.72" fill="#20cb30"/>
<circle cx="251.77" cy="223.16" r="2.72" fill="#f0e23a"/>
<circle cx="251.77" cy="223.16" r="1.3" fill="#fbf5a0"/>
<circle cx="257.74" cy="223.16" r="2.72" fill="#20cb30"/>
<circle cx="215.95" cy="229.52" r="2.72" fill="#20cb30"/>
<circle cx="221.92" cy="229.52" r="2.72" fill="#20cb30"/>
<circle cx="227.89" cy="229.52" r="2.72" fill="#e8401c"/>
<circle cx="233.86" cy="229.52" r="2.72" fill="#20cb30"/>
<circle cx="239.83" cy="229.52" r="2.72" fill="#20cb30"/>
<circle cx="245.80" cy="229.52" r="2.72" fill="#20cb30"/>
<circle cx="251.77" cy="229.52" r="2.72" fill="#20cb30"/>
<circle cx="257.74" cy="229.52" r="2.72" fill="#20cb30"/>
<circle cx="269.30" cy="185.00" r="2.72" fill="#20cb30"/>
<circle cx="275.27" cy="185.00" r="2.72" fill="#20cb30"/>
<circle cx="281.24" cy="185.00" r="2.72" fill="#f0e23a"/>
<circle cx="281.24" cy="185.00" r="1.3" fill="#fbf5a0"/>
<circle cx="287.21" cy="185.00" r="2.72" fill="#20cb30"/>
<circle cx="293.18" cy="185.00" r="2.72" fill="#20cb30"/>
<circle cx="299.15" cy="185.00" r="2.72" fill="#e8401c"/>
<circle cx="305.12" cy="185.00" r="2.72" fill="#20cb30"/>
<circle cx="311.09" cy="185.00" r="2.72" fill="#e8401c"/>
<circle cx="269.30" cy="191.36" r="2.72" fill="#20cb30"/>
<circle cx="275.27" cy="191.36" r="2.72" fill="#20cb30"/>
<circle cx="281.24" cy="191.36" r="2.72" fill="#e8401c"/>
<circle cx="287.21" cy="191.36" r="2.72" fill="#f0e23a"/>
<circle cx="287.21" cy="191.36" r="1.3" fill="#fbf5a0"/>
<circle cx="293.18" cy="191.36" r="2.72" fill="#20cb30"/>
<circle cx="299.15" cy="191.36" r="2.72" fill="#20cb30"/>
<circle cx="305.12" cy="191.36" r="2.72" fill="#20cb30"/>
<circle cx="311.09" cy="191.36" r="2.72" fill="#20cb30"/>
<circle cx="269.30" cy="197.72" r="2.72" fill="#20cb30"/>
<circle cx="275.27" cy="197.72" r="2.72" fill="#20cb30"/>
<circle cx="281.24" cy="197.72" r="2.72" fill="#20cb30"/>
<circle cx="287.21" cy="197.72" r="2.72" fill="#20cb30"/>
<circle cx="293.18" cy="197.72" r="2.72" fill="#e8401c"/>
<circle cx="299.15" cy="197.72" r="2.72" fill="#20cb30"/>
<circle cx="305.12" cy="197.72" r="2.72" fill="#20cb30"/>
<circle cx="311.09" cy="197.72" r="2.72" fill="#f0e23a"/>
<circle cx="311.09" cy="197.72" r="1.3" fill="#fbf5a0"/>
<circle cx="269.30" cy="204.08" r="2.72" fill="#20cb30"/>
<circle cx="275.27" cy="204.08" r="2.72" fill="#f0e23a"/>
<circle cx="275.27" cy="204.08" r="1.3" fill="#fbf5a0"/>
<circle cx="281.24" cy="204.08" r="2.72" fill="#20cb30"/>
<circle cx="287.21" cy="204.08" r="2.72" fill="#20cb30"/>
<circle cx="293.18" cy="204.08" r="2.72" fill="#20cb30"/>
<circle cx="299.15" cy="204.08" r="2.72" fill="#20cb30"/>
<circle cx="305.12" cy="204.08" r="2.72" fill="#20cb30"/>
<circle cx="311.09" cy="204.08" r="2.72" fill="#e8401c"/>
<circle cx="269.30" cy="210.44" r="2.72" fill="#20cb30"/>
<circle cx="275.27" cy="210.44" r="2.72" fill="#20cb30"/>
<circle cx="281.24" cy="210.44" r="2.72" fill="#e8401c"/>
<circle cx="287.21" cy="210.44" r="2.72" fill="#20cb30"/>
<circle cx="293.18" cy="210.44" r="2.72" fill="#20cb30"/>
<circle cx="299.15" cy="210.44" r="2.72" fill="#20cb30"/>
<circle cx="305.12" cy="210.44" r="2.72" fill="#20cb30"/>
<circle cx="311.09" cy="210.44" r="2.72" fill="#20cb30"/>
<circle cx="269.30" cy="216.80" r="2.72" fill="#20cb30"/>
<circle cx="275.27" cy="216.80" r="2.72" fill="#20cb30"/>
<circle cx="281.24" cy="216.80" r="2.72" fill="#20cb30"/>
<circle cx="287.21" cy="216.80" r="2.72" fill="#20cb30"/>
<circle cx="293.18" cy="216.80" r="2.72" fill="#20cb30"/>
<circle cx="299.15" cy="216.80" r="2.72" fill="#f0e23a"/>
<circle cx="299.15" cy="216.80" r="1.3" fill="#fbf5a0"/>
<circle cx="305.12" cy="216.80" r="2.72" fill="#20cb30"/>
<circle cx="311.09" cy="216.80" r="2.72" fill="#20cb30"/>
<circle cx="269.30" cy="223.16" r="2.72" fill="#e8401c"/>
<circle cx="275.27" cy="223.16" r="2.72" fill="#20cb30"/>
<circle cx="281.24" cy="223.16" r="2.72" fill="#e8401c"/>
<circle cx="287.21" cy="223.16" r="2.72" fill="#e8401c"/>
<circle cx="293.18" cy="223.16" r="2.72" fill="#f0e23a"/>
<circle cx="293.18" cy="223.16" r="1.3" fill="#fbf5a0"/>
<circle cx="299.15" cy="223.16" r="2.72" fill="#20cb30"/>
<circle cx="305.12" cy="223.16" r="2.72" fill="#20cb30"/>
<circle cx="311.09" cy="223.16" r="2.72" fill="#e8401c"/>
<circle cx="269.30" cy="229.52" r="2.72" fill="#20cb30"/>
<circle cx="275.27" cy="229.52" r="2.72" fill="#e8401c"/>
<circle cx="281.24" cy="229.52" r="2.72" fill="#20cb30"/>
<circle cx="287.21" cy="229.52" r="2.72" fill="#20cb30"/>
<circle cx="293.18" cy="229.52" r="2.72" fill="#f0e23a"/>
<circle cx="293.18" cy="229.52" r="1.3" fill="#fbf5a0"/>
<circle cx="299.15" cy="229.52" r="2.72" fill="#20cb30"/>
<circle cx="305.12" cy="229.52" r="2.72" fill="#f0e23a"/>
<circle cx="305.12" cy="229.52" r="1.3" fill="#fbf5a0"/>
<circle cx="311.09" cy="229.52" r="2.72" fill="#e8401c"/>
<circle cx="322.65" cy="185.00" r="2.72" fill="#20cb30"/>
<circle cx="328.62" cy="185.00" r="2.72" fill="#20cb30"/>
<circle cx="334.59" cy="185.00" r="2.72" fill="#e8401c"/>
<circle cx="340.56" cy="185.00" r="2.72" fill="#20cb30"/>
<circle cx="346.53" cy="185.00" r="2.72" fill="#20cb30"/>
<circle cx="352.50" cy="185.00" r="2.72" fill="#20cb30"/>
<circle cx="358.47" cy="185.00" r="2.72" fill="#20cb30"/>
<circle cx="364.44" cy="185.00" r="2.72" fill="#20cb30"/>
<circle cx="322.65" cy="191.36" r="2.72" fill="#e8401c"/>
<circle cx="328.62" cy="191.36" r="2.72" fill="#f0e23a"/>
<circle cx="328.62" cy="191.36" r="1.3" fill="#fbf5a0"/>
<circle cx="334.59" cy="191.36" r="2.72" fill="#20cb30"/>
<circle cx="340.56" cy="191.36" r="2.72" fill="#20cb30"/>
<circle cx="346.53" cy="191.36" r="2.72" fill="#20cb30"/>
<circle cx="352.50" cy="191.36" r="2.72" fill="#20cb30"/>
<circle cx="358.47" cy="191.36" r="2.72" fill="#20cb30"/>
<circle cx="364.44" cy="191.36" r="2.72" fill="#e8401c"/>
<circle cx="322.65" cy="197.72" r="2.72" fill="#20cb30"/>
<circle cx="328.62" cy="197.72" r="2.72" fill="#20cb30"/>
<circle cx="334.59" cy="197.72" r="2.72" fill="#20cb30"/>
<circle cx="340.56" cy="197.72" r="2.72" fill="#20cb30"/>
<circle cx="346.53" cy="197.72" r="2.72" fill="#e8401c"/>
<circle cx="352.50" cy="197.72" r="2.72" fill="#20cb30"/>
<circle cx="358.47" cy="197.72" r="2.72" fill="#20cb30"/>
<circle cx="364.44" cy="197.72" r="2.72" fill="#f0e23a"/>
<circle cx="364.44" cy="197.72" r="1.3" fill="#fbf5a0"/>
<circle cx="322.65" cy="204.08" r="2.72" fill="#20cb30"/>
<circle cx="328.62" cy="204.08" r="2.72" fill="#e8401c"/>
<circle cx="334.59" cy="204.08" r="2.72" fill="#20cb30"/>
<circle cx="340.56" cy="204.08" r="2.72" fill="#20cb30"/>
<circle cx="346.53" cy="204.08" r="2.72" fill="#20cb30"/>
<circle cx="352.50" cy="204.08" r="2.72" fill="#f0e23a"/>
<circle cx="352.50" cy="204.08" r="1.3" fill="#fbf5a0"/>
<circle cx="358.47" cy="204.08" r="2.72" fill="#20cb30"/>
<circle cx="364.44" cy="204.08" r="2.72" fill="#20cb30"/>
<circle cx="322.65" cy="210.44" r="2.72" fill="#f0e23a"/>
<circle cx="322.65" cy="210.44" r="1.3" fill="#fbf5a0"/>
<circle cx="328.62" cy="210.44" r="2.72" fill="#20cb30"/>
<circle cx="334.59" cy="210.44" r="2.72" fill="#20cb30"/>
<circle cx="340.56" cy="210.44" r="2.72" fill="#20cb30"/>
<circle cx="346.53" cy="210.44" r="2.72" fill="#20cb30"/>
<circle cx="352.50" cy="210.44" r="2.72" fill="#20cb30"/>
<circle cx="358.47" cy="210.44" r="2.72" fill="#20cb30"/>
<circle cx="364.44" cy="210.44" r="2.72" fill="#20cb30"/>
<circle cx="322.65" cy="216.80" r="2.72" fill="#20cb30"/>
<circle cx="328.62" cy="216.80" r="2.72" fill="#20cb30"/>
<circle cx="334.59" cy="216.80" r="2.72" fill="#20cb30"/>
<circle cx="340.56" cy="216.80" r="2.72" fill="#f0e23a"/>
<circle cx="340.56" cy="216.80" r="1.3" fill="#fbf5a0"/>
<circle cx="346.53" cy="216.80" r="2.72" fill="#20cb30"/>
<circle cx="352.50" cy="216.80" r="2.72" fill="#20cb30"/>
<circle cx="358.47" cy="216.80" r="2.72" fill="#e8401c"/>
<circle cx="364.44" cy="216.80" r="2.72" fill="#20cb30"/>
<circle cx="322.65" cy="223.16" r="2.72" fill="#20cb30"/>
<circle cx="328.62" cy="223.16" r="2.72" fill="#20cb30"/>
<circle cx="334.59" cy="223.16" r="2.72" fill="#e8401c"/>
<circle cx="340.56" cy="223.16" r="2.72" fill="#20cb30"/>
<circle cx="346.53" cy="223.16" r="2.72" fill="#20cb30"/>
<circle cx="352.50" cy="223.16" r="2.72" fill="#e8401c"/>
<circle cx="358.47" cy="223.16" r="2.72" fill="#e8401c"/>
<circle cx="364.44" cy="223.16" r="2.72" fill="#20cb30"/>
<circle cx="322.65" cy="229.52" r="2.72" fill="#f0e23a"/>
<circle cx="322.65" cy="229.52" r="1.3" fill="#fbf5a0"/>
<circle cx="328.62" cy="229.52" r="2.72" fill="#e8401c"/>
<circle cx="334.59" cy="229.52" r="2.72" fill="#20cb30"/>
<circle cx="340.56" cy="229.52" r="2.72" fill="#20cb30"/>
<circle cx="346.53" cy="229.52" r="2.72" fill="#20cb30"/>
<circle cx="352.50" cy="229.52" r="2.72" fill="#20cb30"/>
<circle cx="358.47" cy="229.52" r="2.72" fill="#f0e23a"/>
<circle cx="358.47" cy="229.52" r="1.3" fill="#fbf5a0"/>
<circle cx="364.44" cy="229.52" r="2.72" fill="#f0e23a"/>
<circle cx="364.44" cy="229.52" r="1.3" fill="#fbf5a0"/>
<circle cx="162.60" cy="241.40" r="2.72" fill="#f0e23a"/>
<circle cx="162.60" cy="241.40" r="1.3" fill="#fbf5a0"/>
<circle cx="168.57" cy="241.40" r="2.72" fill="#20cb30"/>
<circle cx="174.54" cy="241.40" r="2.72" fill="#20cb30"/>
<circle cx="180.51" cy="241.40" r="2.72" fill="#20cb30"/>
<circle cx="186.48" cy="241.40" r="2.72" fill="#20cb30"/>
<circle cx="192.45" cy="241.40" r="2.72" fill="#20cb30"/>
<circle cx="198.42" cy="241.40" r="2.72" fill="#e8401c"/>
<circle cx="204.39" cy="241.40" r="2.72" fill="#20cb30"/>
<circle cx="162.60" cy="247.76" r="2.72" fill="#20cb30"/>
<circle cx="168.57" cy="247.76" r="2.72" fill="#e8401c"/>
<circle cx="174.54" cy="247.76" r="2.72" fill="#e8401c"/>
<circle cx="180.51" cy="247.76" r="2.72" fill="#20cb30"/>
<circle cx="186.48" cy="247.76" r="2.72" fill="#20cb30"/>
<circle cx="192.45" cy="247.76" r="2.72" fill="#e8401c"/>
<circle cx="198.42" cy="247.76" r="2.72" fill="#20cb30"/>
<circle cx="204.39" cy="247.76" r="2.72" fill="#20cb30"/>
<circle cx="162.60" cy="254.12" r="2.72" fill="#20cb30"/>
<circle cx="168.57" cy="254.12" r="2.72" fill="#e8401c"/>
<circle cx="174.54" cy="254.12" r="2.72" fill="#20cb30"/>
<circle cx="180.51" cy="254.12" r="2.72" fill="#20cb30"/>
<circle cx="186.48" cy="254.12" r="2.72" fill="#20cb30"/>
<circle cx="192.45" cy="254.12" r="2.72" fill="#20cb30"/>
<circle cx="198.42" cy="254.12" r="2.72" fill="#f0e23a"/>
<circle cx="198.42" cy="254.12" r="1.3" fill="#fbf5a0"/>
<circle cx="204.39" cy="254.12" r="2.72" fill="#20cb30"/>
<circle cx="162.60" cy="260.48" r="2.72" fill="#20cb30"/>
<circle cx="168.57" cy="260.48" r="2.72" fill="#20cb30"/>
<circle cx="174.54" cy="260.48" r="2.72" fill="#f0e23a"/>
<circle cx="174.54" cy="260.48" r="1.3" fill="#fbf5a0"/>
<circle cx="180.51" cy="260.48" r="2.72" fill="#20cb30"/>
<circle cx="186.48" cy="260.48" r="2.72" fill="#20cb30"/>
<circle cx="192.45" cy="260.48" r="2.72" fill="#20cb30"/>
<circle cx="198.42" cy="260.48" r="2.72" fill="#20cb30"/>
<circle cx="204.39" cy="260.48" r="2.72" fill="#20cb30"/>
<circle cx="162.60" cy="266.84" r="2.72" fill="#20cb30"/>
<circle cx="168.57" cy="266.84" r="2.72" fill="#20cb30"/>
<circle cx="174.54" cy="266.84" r="2.72" fill="#e8401c"/>
<circle cx="180.51" cy="266.84" r="2.72" fill="#20cb30"/>
<circle cx="186.48" cy="266.84" r="2.72" fill="#20cb30"/>
<circle cx="192.45" cy="266.84" r="2.72" fill="#20cb30"/>
<circle cx="198.42" cy="266.84" r="2.72" fill="#e8401c"/>
<circle cx="204.39" cy="266.84" r="2.72" fill="#20cb30"/>
<circle cx="162.60" cy="273.20" r="2.72" fill="#20cb30"/>
<circle cx="168.57" cy="273.20" r="2.72" fill="#20cb30"/>
<circle cx="174.54" cy="273.20" r="2.72" fill="#f0e23a"/>
<circle cx="174.54" cy="273.20" r="1.3" fill="#fbf5a0"/>
<circle cx="180.51" cy="273.20" r="2.72" fill="#e8401c"/>
<circle cx="186.48" cy="273.20" r="2.72" fill="#f0e23a"/>
<circle cx="186.48" cy="273.20" r="1.3" fill="#fbf5a0"/>
<circle cx="192.45" cy="273.20" r="2.72" fill="#20cb30"/>
<circle cx="198.42" cy="273.20" r="2.72" fill="#20cb30"/>
<circle cx="204.39" cy="273.20" r="2.72" fill="#20cb30"/>
<circle cx="162.60" cy="279.56" r="2.72" fill="#f0e23a"/>
<circle cx="162.60" cy="279.56" r="1.3" fill="#fbf5a0"/>
<circle cx="168.57" cy="279.56" r="2.72" fill="#20cb30"/>
<circle cx="174.54" cy="279.56" r="2.72" fill="#20cb30"/>
<circle cx="180.51" cy="279.56" r="2.72" fill="#20cb30"/>
<circle cx="186.48" cy="279.56" r="2.72" fill="#20cb30"/>
<circle cx="192.45" cy="279.56" r="2.72" fill="#20cb30"/>
<circle cx="198.42" cy="279.56" r="2.72" fill="#20cb30"/>
<circle cx="204.39" cy="279.56" r="2.72" fill="#e8401c"/>
<circle cx="162.60" cy="285.92" r="2.72" fill="#20cb30"/>
<circle cx="168.57" cy="285.92" r="2.72" fill="#20cb30"/>
<circle cx="174.54" cy="285.92" r="2.72" fill="#20cb30"/>
<circle cx="180.51" cy="285.92" r="2.72" fill="#20cb30"/>
<circle cx="186.48" cy="285.92" r="2.72" fill="#20cb30"/>
<circle cx="192.45" cy="285.92" r="2.72" fill="#e8401c"/>
<circle cx="198.42" cy="285.92" r="2.72" fill="#20cb30"/>
<circle cx="204.39" cy="285.92" r="2.72" fill="#20cb30"/>
<circle cx="215.95" cy="241.40" r="2.72" fill="#e8401c"/>
<circle cx="221.92" cy="241.40" r="2.72" fill="#e8401c"/>
<circle cx="227.89" cy="241.40" r="2.72" fill="#20cb30"/>
<circle cx="233.86" cy="241.40" r="2.72" fill="#20cb30"/>
<circle cx="239.83" cy="241.40" r="2.72" fill="#20cb30"/>
<circle cx="245.80" cy="241.40" r="2.72" fill="#20cb30"/>
<circle cx="251.77" cy="241.40" r="2.72" fill="#e8401c"/>
<circle cx="257.74" cy="241.40" r="2.72" fill="#20cb30"/>
<circle cx="215.95" cy="247.76" r="2.72" fill="#e8401c"/>
<circle cx="221.92" cy="247.76" r="2.72" fill="#20cb30"/>
<circle cx="227.89" cy="247.76" r="2.72" fill="#20cb30"/>
<circle cx="233.86" cy="247.76" r="2.72" fill="#20cb30"/>
<circle cx="239.83" cy="247.76" r="2.72" fill="#e8401c"/>
<circle cx="245.80" cy="247.76" r="2.72" fill="#e8401c"/>
<circle cx="251.77" cy="247.76" r="2.72" fill="#f0e23a"/>
<circle cx="251.77" cy="247.76" r="1.3" fill="#fbf5a0"/>
<circle cx="257.74" cy="247.76" r="2.72" fill="#e8401c"/>
<circle cx="215.95" cy="254.12" r="2.72" fill="#20cb30"/>
<circle cx="221.92" cy="254.12" r="2.72" fill="#20cb30"/>
<circle cx="227.89" cy="254.12" r="2.72" fill="#20cb30"/>
<circle cx="233.86" cy="254.12" r="2.72" fill="#20cb30"/>
<circle cx="239.83" cy="254.12" r="2.72" fill="#20cb30"/>
<circle cx="245.80" cy="254.12" r="2.72" fill="#f0e23a"/>
<circle cx="245.80" cy="254.12" r="1.3" fill="#fbf5a0"/>
<circle cx="251.77" cy="254.12" r="2.72" fill="#20cb30"/>
<circle cx="257.74" cy="254.12" r="2.72" fill="#20cb30"/>
<circle cx="215.95" cy="260.48" r="2.72" fill="#20cb30"/>
<circle cx="221.92" cy="260.48" r="2.72" fill="#20cb30"/>
<circle cx="227.89" cy="260.48" r="2.72" fill="#20cb30"/>
<circle cx="233.86" cy="260.48" r="2.72" fill="#20cb30"/>
<circle cx="239.83" cy="260.48" r="2.72" fill="#20cb30"/>
<circle cx="245.80" cy="260.48" r="2.72" fill="#e8401c"/>
<circle cx="251.77" cy="260.48" r="2.72" fill="#20cb30"/>
<circle cx="257.74" cy="260.48" r="2.72" fill="#20cb30"/>
<circle cx="215.95" cy="266.84" r="2.72" fill="#e8401c"/>
<circle cx="221.92" cy="266.84" r="2.72" fill="#20cb30"/>
<circle cx="227.89" cy="266.84" r="2.72" fill="#20cb30"/>
<circle cx="233.86" cy="266.84" r="2.72" fill="#20cb30"/>
<circle cx="239.83" cy="266.84" r="2.72" fill="#20cb30"/>
<circle cx="245.80" cy="266.84" r="2.72" fill="#20cb30"/>
<circle cx="251.77" cy="266.84" r="2.72" fill="#f0e23a"/>
<circle cx="251.77" cy="266.84" r="1.3" fill="#fbf5a0"/>
<circle cx="257.74" cy="266.84" r="2.72" fill="#20cb30"/>
<circle cx="215.95" cy="273.20" r="2.72" fill="#20cb30"/>
<circle cx="221.92" cy="273.20" r="2.72" fill="#20cb30"/>
<circle cx="227.89" cy="273.20" r="2.72" fill="#20cb30"/>
<circle cx="233.86" cy="273.20" r="2.72" fill="#e8401c"/>
<circle cx="239.83" cy="273.20" r="2.72" fill="#20cb30"/>
<circle cx="245.80" cy="273.20" r="2.72" fill="#20cb30"/>
<circle cx="251.77" cy="273.20" r="2.72" fill="#20cb30"/>
<circle cx="257.74" cy="273.20" r="2.72" fill="#20cb30"/>
<circle cx="215.95" cy="279.56" r="2.72" fill="#20cb30"/>
<circle cx="221.92" cy="279.56" r="2.72" fill="#20cb30"/>
<circle cx="227.89" cy="279.56" r="2.72" fill="#20cb30"/>
<circle cx="233.86" cy="279.56" r="2.72" fill="#f0e23a"/>
<circle cx="233.86" cy="279.56" r="1.3" fill="#fbf5a0"/>
<circle cx="239.83" cy="279.56" r="2.72" fill="#20cb30"/>
<circle cx="245.80" cy="279.56" r="2.72" fill="#e8401c"/>
<circle cx="251.77" cy="279.56" r="2.72" fill="#20cb30"/>
<circle cx="257.74" cy="279.56" r="2.72" fill="#20cb30"/>
<circle cx="215.95" cy="285.92" r="2.72" fill="#e8401c"/>
<circle cx="221.92" cy="285.92" r="2.72" fill="#20cb30"/>
<circle cx="227.89" cy="285.92" r="2.72" fill="#e8401c"/>
<circle cx="233.86" cy="285.92" r="2.72" fill="#20cb30"/>
<circle cx="239.83" cy="285.92" r="2.72" fill="#20cb30"/>
<circle cx="245.80" cy="285.92" r="2.72" fill="#20cb30"/>
<circle cx="251.77" cy="285.92" r="2.72" fill="#20cb30"/>
<circle cx="257.74" cy="285.92" r="2.72" fill="#20cb30"/>
<circle cx="269.30" cy="241.40" r="2.72" fill="#20cb30"/>
<circle cx="275.27" cy="241.40" r="2.72" fill="#20cb30"/>
<circle cx="281.24" cy="241.40" r="2.72" fill="#20cb30"/>
<circle cx="287.21" cy="241.40" r="2.72" fill="#20cb30"/>
<circle cx="293.18" cy="241.40" r="2.72" fill="#20cb30"/>
<circle cx="299.15" cy="241.40" r="2.72" fill="#e8401c"/>
<circle cx="305.12" cy="241.40" r="2.72" fill="#20cb30"/>
<circle cx="311.09" cy="241.40" r="2.72" fill="#20cb30"/>
<circle cx="269.30" cy="247.76" r="2.72" fill="#20cb30"/>
<circle cx="275.27" cy="247.76" r="2.72" fill="#e8401c"/>
<circle cx="281.24" cy="247.76" r="2.72" fill="#20cb30"/>
<circle cx="287.21" cy="247.76" r="2.72" fill="#f0e23a"/>
<circle cx="287.21" cy="247.76" r="1.3" fill="#fbf5a0"/>
<circle cx="293.18" cy="247.76" r="2.72" fill="#20cb30"/>
<circle cx="299.15" cy="247.76" r="2.72" fill="#20cb30"/>
<circle cx="305.12" cy="247.76" r="2.72" fill="#20cb30"/>
<circle cx="311.09" cy="247.76" r="2.72" fill="#20cb30"/>
<circle cx="269.30" cy="254.12" r="2.72" fill="#e8401c"/>
<circle cx="275.27" cy="254.12" r="2.72" fill="#20cb30"/>
<circle cx="281.24" cy="254.12" r="2.72" fill="#f0e23a"/>
<circle cx="281.24" cy="254.12" r="1.3" fill="#fbf5a0"/>
<circle cx="287.21" cy="254.12" r="2.72" fill="#20cb30"/>
<circle cx="293.18" cy="254.12" r="2.72" fill="#20cb30"/>
<circle cx="299.15" cy="254.12" r="2.72" fill="#20cb30"/>
<circle cx="305.12" cy="254.12" r="2.72" fill="#20cb30"/>
<circle cx="311.09" cy="254.12" r="2.72" fill="#e8401c"/>
<circle cx="269.30" cy="260.48" r="2.72" fill="#20cb30"/>
<circle cx="275.27" cy="260.48" r="2.72" fill="#e8401c"/>
<circle cx="281.24" cy="260.48" r="2.72" fill="#20cb30"/>
<circle cx="287.21" cy="260.48" r="2.72" fill="#20cb30"/>
<circle cx="293.18" cy="260.48" r="2.72" fill="#20cb30"/>
<circle cx="299.15" cy="260.48" r="2.72" fill="#e8401c"/>
<circle cx="305.12" cy="260.48" r="2.72" fill="#20cb30"/>
<circle cx="311.09" cy="260.48" r="2.72" fill="#20cb30"/>
<circle cx="269.30" cy="266.84" r="2.72" fill="#20cb30"/>
<circle cx="275.27" cy="266.84" r="2.72" fill="#f0e23a"/>
<circle cx="275.27" cy="266.84" r="1.3" fill="#fbf5a0"/>
<circle cx="281.24" cy="266.84" r="2.72" fill="#20cb30"/>
<circle cx="287.21" cy="266.84" r="2.72" fill="#20cb30"/>
<circle cx="293.18" cy="266.84" r="2.72" fill="#20cb30"/>
<circle cx="299.15" cy="266.84" r="2.72" fill="#20cb30"/>
<circle cx="305.12" cy="266.84" r="2.72" fill="#20cb30"/>
<circle cx="311.09" cy="266.84" r="2.72" fill="#20cb30"/>
<circle cx="269.30" cy="273.20" r="2.72" fill="#20cb30"/>
<circle cx="275.27" cy="273.20" r="2.72" fill="#20cb30"/>
<circle cx="281.24" cy="273.20" r="2.72" fill="#20cb30"/>
<circle cx="287.21" cy="273.20" r="2.72" fill="#20cb30"/>
<circle cx="293.18" cy="273.20" r="2.72" fill="#e8401c"/>
<circle cx="299.15" cy="273.20" r="2.72" fill="#20cb30"/>
<circle cx="305.12" cy="273.20" r="2.72" fill="#20cb30"/>
<circle cx="311.09" cy="273.20" r="2.72" fill="#20cb30"/>
<circle cx="269.30" cy="279.56" r="2.72" fill="#20cb30"/>
<circle cx="275.27" cy="279.56" r="2.72" fill="#20cb30"/>
<circle cx="281.24" cy="279.56" r="2.72" fill="#e8401c"/>
<circle cx="287.21" cy="279.56" r="2.72" fill="#20cb30"/>
<circle cx="293.18" cy="279.56" r="2.72" fill="#20cb30"/>
<circle cx="299.15" cy="279.56" r="2.72" fill="#20cb30"/>
<circle cx="305.12" cy="279.56" r="2.72" fill="#20cb30"/>
<circle cx="311.09" cy="279.56" r="2.72" fill="#e8401c"/>
<circle cx="269.30" cy="285.92" r="2.72" fill="#20cb30"/>
<circle cx="275.27" cy="285.92" r="2.72" fill="#20cb30"/>
<circle cx="281.24" cy="285.92" r="2.72" fill="#f0e23a"/>
<circle cx="281.24" cy="285.92" r="1.3" fill="#fbf5a0"/>
<circle cx="287.21" cy="285.92" r="2.72" fill="#20cb30"/>
<circle cx="293.18" cy="285.92" r="2.72" fill="#20cb30"/>
<circle cx="299.15" cy="285.92" r="2.72" fill="#e8401c"/>
<circle cx="305.12" cy="285.92" r="2.72" fill="#20cb30"/>
<circle cx="311.09" cy="285.92" r="2.72" fill="#20cb30"/>
<circle cx="322.65" cy="241.40" r="2.72" fill="#20cb30"/>
<circle cx="328.62" cy="241.40" r="2.72" fill="#20cb30"/>
<circle cx="334.59" cy="241.40" r="2.72" fill="#20cb30"/>
<circle cx="340.56" cy="241.40" r="2.72" fill="#e8401c"/>
<circle cx="346.53" cy="241.40" r="2.72" fill="#20cb30"/>
<circle cx="352.50" cy="241.40" r="2.72" fill="#20cb30"/>
<circle cx="358.47" cy="241.40" r="2.72" fill="#20cb30"/>
<circle cx="364.44" cy="241.40" r="2.72" fill="#20cb30"/>
<circle cx="322.65" cy="247.76" r="2.72" fill="#20cb30"/>
<circle cx="328.62" cy="247.76" r="2.72" fill="#20cb30"/>
<circle cx="334.59" cy="247.76" r="2.72" fill="#20cb30"/>
<circle cx="340.56" cy="247.76" r="2.72" fill="#20cb30"/>
<circle cx="346.53" cy="247.76" r="2.72" fill="#f0e23a"/>
<circle cx="346.53" cy="247.76" r="1.3" fill="#fbf5a0"/>
<circle cx="352.50" cy="247.76" r="2.72" fill="#20cb30"/>
<circle cx="358.47" cy="247.76" r="2.72" fill="#20cb30"/>
<circle cx="364.44" cy="247.76" r="2.72" fill="#e8401c"/>
<circle cx="322.65" cy="254.12" r="2.72" fill="#20cb30"/>
<circle cx="328.62" cy="254.12" r="2.72" fill="#e8401c"/>
<circle cx="334.59" cy="254.12" r="2.72" fill="#20cb30"/>
<circle cx="340.56" cy="254.12" r="2.72" fill="#20cb30"/>
<circle cx="346.53" cy="254.12" r="2.72" fill="#f0e23a"/>
<circle cx="346.53" cy="254.12" r="1.3" fill="#fbf5a0"/>
<circle cx="352.50" cy="254.12" r="2.72" fill="#20cb30"/>
<circle cx="358.47" cy="254.12" r="2.72" fill="#20cb30"/>
<circle cx="364.44" cy="254.12" r="2.72" fill="#20cb30"/>
<circle cx="322.65" cy="260.48" r="2.72" fill="#20cb30"/>
<circle cx="328.62" cy="260.48" r="2.72" fill="#20cb30"/>
<circle cx="334.59" cy="260.48" r="2.72" fill="#20cb30"/>
<circle cx="340.56" cy="260.48" r="2.72" fill="#20cb30"/>
<circle cx="346.53" cy="260.48" r="2.72" fill="#e8401c"/>
<circle cx="352.50" cy="260.48" r="2.72" fill="#20cb30"/>
<circle cx="358.47" cy="260.48" r="2.72" fill="#20cb30"/>
<circle cx="364.44" cy="260.48" r="2.72" fill="#20cb30"/>
<circle cx="322.65" cy="266.84" r="2.72" fill="#20cb30"/>
<circle cx="328.62" cy="266.84" r="2.72" fill="#20cb30"/>
<circle cx="334.59" cy="266.84" r="2.72" fill="#e8401c"/>
<circle cx="340.56" cy="266.84" r="2.72" fill="#20cb30"/>
<circle cx="346.53" cy="266.84" r="2.72" fill="#e8401c"/>
<circle cx="352.50" cy="266.84" r="2.72" fill="#20cb30"/>
<circle cx="358.47" cy="266.84" r="2.72" fill="#f0e23a"/>
<circle cx="358.47" cy="266.84" r="1.3" fill="#fbf5a0"/>
<circle cx="364.44" cy="266.84" r="2.72" fill="#20cb30"/>
<circle cx="322.65" cy="273.20" r="2.72" fill="#e8401c"/>
<circle cx="328.62" cy="273.20" r="2.72" fill="#20cb30"/>
<circle cx="334.59" cy="273.20" r="2.72" fill="#20cb30"/>
<circle cx="340.56" cy="273.20" r="2.72" fill="#20cb30"/>
<circle cx="346.53" cy="273.20" r="2.72" fill="#20cb30"/>
<circle cx="352.50" cy="273.20" r="2.72" fill="#20cb30"/>
<circle cx="358.47" cy="273.20" r="2.72" fill="#e8401c"/>
<circle cx="364.44" cy="273.20" r="2.72" fill="#20cb30"/>
<circle cx="322.65" cy="279.56" r="2.72" fill="#20cb30"/>
<circle cx="328.62" cy="279.56" r="2.72" fill="#20cb30"/>
<circle cx="334.59" cy="279.56" r="2.72" fill="#20cb30"/>
<circle cx="340.56" cy="279.56" r="2.72" fill="#20cb30"/>
<circle cx="346.53" cy="279.56" r="2.72" fill="#e8401c"/>
<circle cx="352.50" cy="279.56" r="2.72" fill="#f0e23a"/>
<circle cx="352.50" cy="279.56" r="1.3" fill="#fbf5a0"/>
<circle cx="358.47" cy="279.56" r="2.72" fill="#20cb30"/>
<circle cx="364.44" cy="279.56" r="2.72" fill="#20cb30"/>
<circle cx="322.65" cy="285.92" r="2.72" fill="#20cb30"/>
<circle cx="328.62" cy="285.92" r="2.72" fill="#e8401c"/>
<circle cx="334.59" cy="285.92" r="2.72" fill="#e8401c"/>
<circle cx="340.56" cy="285.92" r="2.72" fill="#20cb30"/>
<circle cx="346.53" cy="285.92" r="2.72" fill="#20cb30"/>
<circle cx="352.50" cy="285.92" r="2.72" fill="#20cb30"/>
<circle cx="358.47" cy="285.92" r="2.72" fill="#e8401c"/>
<circle cx="364.44" cy="285.92" r="2.72" fill="#20cb30"/>
<line x1="25.8" y1="320" x2="25.8" y2="441" stroke="#9298b0" stroke-width="1.25"/>
<line x1="22.2" y1="441.3" x2="223" y2="441.3" stroke="#9298b0" stroke-width="1.2"/>
<line x1="21.7" y1="427.40" x2="25.8" y2="427.40" stroke="#9298b0" stroke-width="1"/>
<line x1="21.7" y1="412.90" x2="25.8" y2="412.90" stroke="#9298b0" stroke-width="1"/>
<line x1="21.7" y1="398.40" x2="25.8" y2="398.40" stroke="#9298b0" stroke-width="1"/>
<line x1="21.7" y1="383.90" x2="25.8" y2="383.90" stroke="#9298b0" stroke-width="1"/>
<line x1="21.7" y1="369.40" x2="25.8" y2="369.40" stroke="#9298b0" stroke-width="1"/>
<line x1="21.7" y1="354.90" x2="25.8" y2="354.90" stroke="#9298b0" stroke-width="1"/>
<line x1="21.7" y1="340.40" x2="25.8" y2="340.40" stroke="#9298b0" stroke-width="1"/>
<line x1="21.7" y1="325.90" x2="25.8" y2="325.90" stroke="#9298b0" stroke-width="1"/>
<text x="18.3" y="444.10" font-size="7.2" font-weight="bold" text-anchor="middle" fill="#000" stroke="#000" stroke-width="0.25">0</text>
<text x="18.3" y="415.10" font-size="7.2" font-weight="bold" text-anchor="middle" fill="#000" stroke="#000" stroke-width="0.25">2</text>
<text x="18.3" y="386.10" font-size="7.2" font-weight="bold" text-anchor="middle" fill="#000" stroke="#000" stroke-width="0.25">4</text>
<text x="18.3" y="357.10" font-size="7.2" font-weight="bold" text-anchor="middle" fill="#000" stroke="#000" stroke-width="0.25">6</text>
<text x="18.3" y="328.10" font-size="7.2" font-weight="bold" text-anchor="middle" fill="#000" stroke="#000" stroke-width="0.25">8</text>
<rect x="32.4" y="393.6" width="16.40" height="47.00" fill="#0866fc"/>
<rect x="48.2" y="392.6" width="14.20" height="48.00" fill="#343596"/>
<rect x="61.8" y="393.6" width="14.50" height="47.00" fill="#0866fc"/>
<rect x="75.7" y="392.6" width="12.70" height="48.00" fill="#343596"/>
<rect x="87.8" y="393.6" width="10.90" height="47.00" fill="#0866fc"/>
<rect x="98.1" y="391.6" width="11.00" height="49.00" fill="#343596"/>
<rect x="108.5" y="392.4" width="10.90" height="48.20" fill="#0866fc"/>
<rect x="118.8" y="391.6" width="10.40" height="49.00" fill="#343596"/>
<rect x="128.6" y="392.4" width="8.80" height="48.20" fill="#0866fc"/>
<rect x="136.8" y="391.6" width="9.10" height="49.00" fill="#343596"/>
<rect x="145.3" y="392.4" width="8.40" height="48.20" fill="#0866fc"/>
<rect x="153.1" y="391.6" width="9.40" height="49.00" fill="#343596"/>
<rect x="161.9" y="392.4" width="8.30" height="48.20" fill="#0866fc"/>
<rect x="169.6" y="391.6" width="6.80" height="49.00" fill="#343596"/>
<rect x="175.8" y="392.4" width="6.00" height="48.20" fill="#0866fc"/>
<rect x="181.2" y="391.6" width="5.90" height="49.00" fill="#343596"/>
<rect x="186.5" y="392.4" width="5.30" height="48.20" fill="#0866fc"/>
<rect x="191.2" y="391.6" width="5.90" height="49.00" fill="#343596"/>
<rect x="196.5" y="392.4" width="4.50" height="48.20" fill="#0866fc"/>
<rect x="200.4" y="391.6" width="4.40" height="49.00" fill="#343596"/>
<rect x="204.2" y="392.4" width="3.70" height="48.20" fill="#0866fc"/>
<rect x="207.3" y="391.6" width="3.70" height="49.00" fill="#343596"/>
<rect x="210.4" y="392.4" width="10.60" height="48.20" fill="#0866fc"/>
<rect x="220.4" y="391.6" width="2.60" height="49.00" fill="#343596"/>
<circle cx="32.7" cy="386.8" r="0.95" fill="#3d88f2"/>
<circle cx="32.8" cy="384.0" r="0.95" fill="#3d88f2"/>
<circle cx="32.6" cy="391.1" r="0.9" fill="#25257c"/>
<circle cx="32.9" cy="381.3" r="0.9" fill="#25257c"/>
<circle cx="34.7" cy="391.0" r="0.95" fill="#3d88f2"/>
<circle cx="33.9" cy="387.7" r="0.95" fill="#3d88f2"/>
<circle cx="34.8" cy="385.9" r="0.9" fill="#25257c"/>
<circle cx="34.8" cy="385.8" r="0.9" fill="#25257c"/>
<circle cx="35.7" cy="384.3" r="0.95" fill="#3d88f2"/>
<circle cx="36.1" cy="390.9" r="0.95" fill="#3d88f2"/>
<circle cx="35.4" cy="382.9" r="0.9" fill="#25257c"/>
<circle cx="36.0" cy="381.4" r="0.9" fill="#25257c"/>
<circle cx="37.0" cy="391.6" r="0.95" fill="#3d88f2"/>
<circle cx="37.7" cy="386.3" r="0.95" fill="#3d88f2"/>
<circle cx="37.4" cy="384.9" r="0.9" fill="#25257c"/>
<circle cx="36.7" cy="385.1" r="0.9" fill="#25257c"/>
<circle cx="39.0" cy="390.4" r="0.95" fill="#3d88f2"/>
<circle cx="39.0" cy="389.4" r="0.95" fill="#3d88f2"/>
<circle cx="38.6" cy="384.7" r="0.9" fill="#25257c"/>
<circle cx="38.5" cy="382.9" r="0.9" fill="#25257c"/>
<circle cx="39.9" cy="386.1" r="0.95" fill="#3d88f2"/>
<circle cx="40.4" cy="388.2" r="0.95" fill="#3d88f2"/>
<circle cx="40.2" cy="389.7" r="0.9" fill="#25257c"/>
<circle cx="40.1" cy="389.5" r="0.9" fill="#25257c"/>
<circle cx="41.2" cy="386.8" r="0.95" fill="#3d88f2"/>
<circle cx="41.7" cy="387.1" r="0.95" fill="#3d88f2"/>
<circle cx="41.7" cy="384.4" r="0.9" fill="#25257c"/>
<circle cx="40.9" cy="383.2" r="0.9" fill="#25257c"/>
<circle cx="42.6" cy="388.7" r="0.95" fill="#3d88f2"/>
<circle cx="43.2" cy="392.3" r="0.95" fill="#3d88f2"/>
<circle cx="42.4" cy="381.4" r="0.9" fill="#25257c"/>
<circle cx="43.0" cy="387.0" r="0.9" fill="#25257c"/>
<circle cx="43.9" cy="387.8" r="0.95" fill="#3d88f2"/>
<circle cx="44.3" cy="387.5" r="0.95" fill="#3d88f2"/>
<circle cx="44.5" cy="389.3" r="0.9" fill="#25257c"/>
<circle cx="44.5" cy="383.7" r="0.9" fill="#25257c"/>
<circle cx="45.7" cy="386.5" r="0.95" fill="#3d88f2"/>
<circle cx="45.8" cy="387.2" r="0.95" fill="#3d88f2"/>
<circle cx="45.3" cy="384.8" r="0.9" fill="#25257c"/>
<circle cx="45.7" cy="390.5" r="0.9" fill="#25257c"/>
<circle cx="46.9" cy="386.8" r="0.95" fill="#3d88f2"/>
<circle cx="47.0" cy="392.4" r="0.95" fill="#3d88f2"/>
<circle cx="47.2" cy="389.8" r="0.9" fill="#25257c"/>
<circle cx="47.0" cy="381.0" r="0.9" fill="#25257c"/>
<circle cx="48.7" cy="391.0" r="0.95" fill="#3d88f2"/>
<circle cx="47.9" cy="391.8" r="0.95" fill="#3d88f2"/>
<circle cx="48.1" cy="383.7" r="0.9" fill="#25257c"/>
<circle cx="48.8" cy="382.1" r="0.9" fill="#25257c"/>
<circle cx="50.2" cy="387.2" r="0.95" fill="#3d88f2"/>
<circle cx="49.6" cy="387.8" r="0.95" fill="#3d88f2"/>
<circle cx="49.4" cy="391.0" r="0.9" fill="#25257c"/>
<circle cx="49.5" cy="388.1" r="0.9" fill="#25257c"/>
<circle cx="50.8" cy="387.1" r="0.95" fill="#3d88f2"/>
<circle cx="51.0" cy="385.7" r="0.95" fill="#3d88f2"/>
<circle cx="50.9" cy="388.4" r="0.9" fill="#25257c"/>
<circle cx="51.4" cy="385.5" r="0.9" fill="#25257c"/>
<circle cx="52.4" cy="385.6" r="0.95" fill="#3d88f2"/>
<circle cx="52.9" cy="385.7" r="0.95" fill="#3d88f2"/>
<circle cx="52.2" cy="383.2" r="0.9" fill="#25257c"/>
<circle cx="52.7" cy="387.5" r="0.9" fill="#25257c"/>
<circle cx="53.7" cy="384.8" r="0.95" fill="#3d88f2"/>
<circle cx="53.9" cy="389.9" r="0.95" fill="#3d88f2"/>
<circle cx="54.5" cy="385.3" r="0.9" fill="#25257c"/>
<circle cx="53.9" cy="387.6" r="0.9" fill="#25257c"/>
<circle cx="55.8" cy="387.5" r="0.95" fill="#3d88f2"/>
<circle cx="55.3" cy="392.5" r="0.95" fill="#3d88f2"/>
<circle cx="55.1" cy="389.1" r="0.9" fill="#25257c"/>
<circle cx="55.3" cy="390.6" r="0.9" fill="#25257c"/>
<circle cx="56.7" cy="391.0" r="0.95" fill="#3d88f2"/>
<circle cx="56.8" cy="391.5" r="0.95" fill="#3d88f2"/>
<circle cx="56.9" cy="382.7" r="0.9" fill="#25257c"/>
<circle cx="56.4" cy="390.7" r="0.9" fill="#25257c"/>
<circle cx="58.1" cy="389.3" r="0.95" fill="#3d88f2"/>
<circle cx="57.8" cy="388.3" r="0.95" fill="#3d88f2"/>
<circle cx="58.6" cy="387.2" r="0.9" fill="#25257c"/>
<circle cx="58.5" cy="387.0" r="0.9" fill="#25257c"/>
<circle cx="59.3" cy="392.2" r="0.95" fill="#3d88f2"/>
<circle cx="60.0" cy="385.1" r="0.95" fill="#3d88f2"/>
<circle cx="59.2" cy="381.9" r="0.9" fill="#25257c"/>
<circle cx="60.0" cy="381.7" r="0.9" fill="#25257c"/>
<circle cx="61.3" cy="389.3" r="0.95" fill="#3d88f2"/>
<circle cx="61.3" cy="385.4" r="0.95" fill="#3d88f2"/>
<circle cx="61.3" cy="386.2" r="0.9" fill="#25257c"/>
<circle cx="60.7" cy="384.2" r="0.9" fill="#25257c"/>
<circle cx="62.4" cy="387.4" r="0.95" fill="#3d88f2"/>
<circle cx="62.0" cy="387.3" r="0.95" fill="#3d88f2"/>
<circle cx="62.8" cy="389.1" r="0.9" fill="#25257c"/>
<circle cx="62.7" cy="387.6" r="0.9" fill="#25257c"/>
<circle cx="64.1" cy="384.3" r="0.95" fill="#3d88f2"/>
<circle cx="63.9" cy="385.0" r="0.95" fill="#3d88f2"/>
<circle cx="63.6" cy="388.2" r="0.9" fill="#25257c"/>
<circle cx="63.7" cy="387.8" r="0.9" fill="#25257c"/>
<circle cx="65.1" cy="389.6" r="0.95" fill="#3d88f2"/>
<circle cx="64.7" cy="387.7" r="0.95" fill="#3d88f2"/>
<circle cx="64.9" cy="387.0" r="0.9" fill="#25257c"/>
<circle cx="65.2" cy="389.5" r="0.9" fill="#25257c"/>
<circle cx="66.6" cy="385.5" r="0.95" fill="#3d88f2"/>
<circle cx="66.2" cy="384.9" r="0.95" fill="#3d88f2"/>
<circle cx="66.5" cy="383.4" r="0.9" fill="#25257c"/>
<circle cx="66.7" cy="383.0" r="0.9" fill="#25257c"/>
<circle cx="68.2" cy="384.7" r="0.95" fill="#3d88f2"/>
<circle cx="68.0" cy="390.6" r="0.95" fill="#3d88f2"/>
<circle cx="67.9" cy="387.1" r="0.9" fill="#25257c"/>
<circle cx="68.4" cy="381.1" r="0.9" fill="#25257c"/>
<circle cx="69.6" cy="392.5" r="0.95" fill="#3d88f2"/>
<circle cx="69.1" cy="390.9" r="0.95" fill="#3d88f2"/>
<circle cx="69.9" cy="381.9" r="0.9" fill="#25257c"/>
<circle cx="69.7" cy="384.1" r="0.9" fill="#25257c"/>
<circle cx="70.4" cy="391.9" r="0.95" fill="#3d88f2"/>
<circle cx="71.1" cy="387.0" r="0.95" fill="#3d88f2"/>
<circle cx="70.6" cy="390.6" r="0.9" fill="#25257c"/>
<circle cx="70.8" cy="383.9" r="0.9" fill="#25257c"/>
<circle cx="71.9" cy="391.8" r="0.95" fill="#3d88f2"/>
<circle cx="72.2" cy="386.2" r="0.95" fill="#3d88f2"/>
<circle cx="71.9" cy="382.9" r="0.9" fill="#25257c"/>
<circle cx="72.4" cy="390.9" r="0.9" fill="#25257c"/>
<circle cx="73.3" cy="391.6" r="0.95" fill="#3d88f2"/>
<circle cx="73.2" cy="390.7" r="0.95" fill="#3d88f2"/>
<circle cx="73.5" cy="388.3" r="0.9" fill="#25257c"/>
<circle cx="73.7" cy="387.5" r="0.9" fill="#25257c"/>
<circle cx="74.6" cy="391.5" r="0.95" fill="#3d88f2"/>
<circle cx="75.1" cy="392.4" r="0.95" fill="#3d88f2"/>
<circle cx="74.8" cy="389.7" r="0.9" fill="#25257c"/>
<circle cx="74.9" cy="382.1" r="0.9" fill="#25257c"/>
<circle cx="76.3" cy="390.5" r="0.95" fill="#3d88f2"/>
<circle cx="76.6" cy="385.5" r="0.95" fill="#3d88f2"/>
<circle cx="76.2" cy="389.9" r="0.9" fill="#25257c"/>
<circle cx="76.5" cy="391.4" r="0.9" fill="#25257c"/>
<circle cx="77.6" cy="389.6" r="0.95" fill="#3d88f2"/>
<circle cx="77.3" cy="384.0" r="0.95" fill="#3d88f2"/>
<circle cx="77.7" cy="388.1" r="0.9" fill="#25257c"/>
<circle cx="77.4" cy="390.6" r="0.9" fill="#25257c"/>
<circle cx="79.4" cy="385.9" r="0.95" fill="#3d88f2"/>
<circle cx="78.7" cy="384.2" r="0.95" fill="#3d88f2"/>
<circle cx="79.1" cy="383.5" r="0.9" fill="#25257c"/>
<circle cx="79.3" cy="387.8" r="0.9" fill="#25257c"/>
<circle cx="80.7" cy="385.7" r="0.95" fill="#3d88f2"/>
<circle cx="80.2" cy="388.0" r="0.95" fill="#3d88f2"/>
<circle cx="80.2" cy="381.3" r="0.9" fill="#25257c"/>
<circle cx="81.0" cy="388.3" r="0.9" fill="#25257c"/>
<circle cx="81.9" cy="390.6" r="0.95" fill="#3d88f2"/>
<circle cx="81.5" cy="386.2" r="0.95" fill="#3d88f2"/>
<circle cx="81.9" cy="387.6" r="0.9" fill="#25257c"/>
<circle cx="82.4" cy="386.5" r="0.9" fill="#25257c"/>
<circle cx="83.1" cy="390.2" r="0.95" fill="#3d88f2"/>
<circle cx="82.9" cy="391.7" r="0.95" fill="#3d88f2"/>
<circle cx="83.1" cy="386.2" r="0.9" fill="#25257c"/>
<circle cx="82.9" cy="389.5" r="0.9" fill="#25257c"/>
<circle cx="85.2" cy="388.7" r="0.95" fill="#3d88f2"/>
<circle cx="84.5" cy="385.2" r="0.95" fill="#3d88f2"/>
<circle cx="84.9" cy="387.1" r="0.9" fill="#25257c"/>
<circle cx="84.6" cy="384.2" r="0.9" fill="#25257c"/>
<circle cx="85.7" cy="386.6" r="0.95" fill="#3d88f2"/>
<circle cx="86.5" cy="391.6" r="0.95" fill="#3d88f2"/>
<circle cx="86.5" cy="382.7" r="0.9" fill="#25257c"/>
<circle cx="86.4" cy="386.7" r="0.9" fill="#25257c"/>
<circle cx="87.3" cy="387.8" r="0.95" fill="#3d88f2"/>
<circle cx="87.3" cy="384.9" r="0.95" fill="#3d88f2"/>
<circle cx="87.8" cy="385.6" r="0.9" fill="#25257c"/>
<circle cx="87.8" cy="390.1" r="0.9" fill="#25257c"/>
<circle cx="89.1" cy="386.3" r="0.95" fill="#3d88f2"/>
<circle cx="89.3" cy="387.7" r="0.95" fill="#3d88f2"/>
<circle cx="89.1" cy="385.0" r="0.9" fill="#25257c"/>
<circle cx="89.4" cy="381.3" r="0.9" fill="#25257c"/>
<circle cx="90.2" cy="384.1" r="0.95" fill="#3d88f2"/>
<circle cx="90.6" cy="386.0" r="0.95" fill="#3d88f2"/>
<circle cx="90.2" cy="382.4" r="0.9" fill="#25257c"/>
<circle cx="90.1" cy="385.5" r="0.9" fill="#25257c"/>
<circle cx="91.9" cy="391.7" r="0.95" fill="#3d88f2"/>
<circle cx="92.0" cy="389.9" r="0.95" fill="#3d88f2"/>
<circle cx="92.1" cy="381.8" r="0.9" fill="#25257c"/>
<circle cx="91.7" cy="390.2" r="0.9" fill="#25257c"/>
<circle cx="93.3" cy="390.2" r="0.95" fill="#3d88f2"/>
<circle cx="92.9" cy="386.6" r="0.95" fill="#3d88f2"/>
<circle cx="93.6" cy="383.3" r="0.9" fill="#25257c"/>
<circle cx="92.8" cy="382.8" r="0.9" fill="#25257c"/>
<circle cx="94.4" cy="391.9" r="0.95" fill="#3d88f2"/>
<circle cx="94.1" cy="385.2" r="0.95" fill="#3d88f2"/>
<circle cx="94.7" cy="388.8" r="0.9" fill="#25257c"/>
<circle cx="94.2" cy="389.2" r="0.9" fill="#25257c"/>
<circle cx="95.9" cy="389.0" r="0.95" fill="#3d88f2"/>
<circle cx="96.3" cy="390.9" r="0.95" fill="#3d88f2"/>
<circle cx="96.4" cy="383.2" r="0.9" fill="#25257c"/>
<circle cx="95.6" cy="391.0" r="0.9" fill="#25257c"/>
<circle cx="97.0" cy="385.7" r="0.95" fill="#3d88f2"/>
<circle cx="97.7" cy="384.3" r="0.95" fill="#3d88f2"/>
<circle cx="97.7" cy="388.2" r="0.9" fill="#25257c"/>
<circle cx="97.0" cy="385.2" r="0.9" fill="#25257c"/>
<circle cx="98.6" cy="387.5" r="0.95" fill="#3d88f2"/>
<circle cx="100.0" cy="387.8" r="0.95" fill="#3d88f2"/>
<circle cx="100.1" cy="389.2" r="0.9" fill="#25257c"/>
<circle cx="102.0" cy="389.0" r="0.95" fill="#3d88f2"/>
<circle cx="102.9" cy="386.8" r="0.9" fill="#25257c"/>
<circle cx="104.4" cy="389.1" r="0.9" fill="#25257c"/>
<circle cx="106.1" cy="387.0" r="0.95" fill="#3d88f2"/>
<circle cx="107.5" cy="387.5" r="0.95" fill="#3d88f2"/>
<circle cx="106.7" cy="391.3" r="0.9" fill="#25257c"/>
<circle cx="108.3" cy="390.5" r="0.95" fill="#3d88f2"/>
<circle cx="108.4" cy="387.5" r="0.9" fill="#25257c"/>
<circle cx="109.8" cy="391.1" r="0.9" fill="#25257c"/>
<circle cx="111.0" cy="389.0" r="0.95" fill="#3d88f2"/>
<circle cx="111.0" cy="388.6" r="0.9" fill="#25257c"/>
<circle cx="112.9" cy="389.8" r="0.9" fill="#25257c"/>
<circle cx="114.6" cy="388.5" r="0.95" fill="#3d88f2"/>
<circle cx="114.6" cy="384.2" r="0.9" fill="#25257c"/>
<circle cx="116.0" cy="387.8" r="0.95" fill="#3d88f2"/>
<circle cx="115.5" cy="387.5" r="0.9" fill="#25257c"/>
<circle cx="117.0" cy="387.2" r="0.9" fill="#25257c"/>
<circle cx="119.5" cy="386.1" r="0.9" fill="#25257c"/>
<circle cx="120.9" cy="389.4" r="0.9" fill="#25257c"/>
<circle cx="122.2" cy="389.4" r="0.95" fill="#3d88f2"/>
<circle cx="123.7" cy="387.7" r="0.95" fill="#3d88f2"/>
<circle cx="125.1" cy="390.7" r="0.95" fill="#3d88f2"/>
<circle cx="125.1" cy="384.7" r="0.9" fill="#25257c"/>
<circle cx="126.6" cy="387.3" r="0.95" fill="#3d88f2"/>
<circle cx="127.3" cy="385.0" r="0.9" fill="#25257c"/>
<circle cx="127.8" cy="391.2" r="0.9" fill="#25257c"/>
<circle cx="129.8" cy="390.5" r="0.95" fill="#3d88f2"/>
<circle cx="130.6" cy="389.7" r="0.95" fill="#3d88f2"/>
<circle cx="130.9" cy="385.2" r="0.9" fill="#25257c"/>
<circle cx="132.6" cy="390.5" r="0.95" fill="#3d88f2"/>
<circle cx="132.5" cy="387.5" r="0.9" fill="#25257c"/>
<circle cx="133.7" cy="389.5" r="0.95" fill="#3d88f2"/>
<circle cx="134.2" cy="389.4" r="0.9" fill="#25257c"/>
<circle cx="135.1" cy="390.2" r="0.95" fill="#3d88f2"/>
<circle cx="135.4" cy="385.3" r="0.9" fill="#25257c"/>
<circle cx="139.2" cy="387.1" r="0.9" fill="#25257c"/>
<circle cx="141.1" cy="386.9" r="0.9" fill="#25257c"/>
<circle cx="142.1" cy="385.5" r="0.9" fill="#25257c"/>
<circle cx="143.8" cy="388.5" r="0.95" fill="#3d88f2"/>
<circle cx="143.3" cy="390.9" r="0.9" fill="#25257c"/>
<circle cx="145.9" cy="391.4" r="0.95" fill="#3d88f2"/>
<circle cx="146.1" cy="387.8" r="0.9" fill="#25257c"/>
<circle cx="149.2" cy="388.1" r="0.9" fill="#25257c"/>
<circle cx="150.9" cy="388.6" r="0.9" fill="#25257c"/>
<circle cx="151.7" cy="391.1" r="0.9" fill="#25257c"/>
<circle cx="153.0" cy="389.6" r="0.9" fill="#25257c"/>
<circle cx="154.6" cy="384.0" r="0.9" fill="#25257c"/>
<circle cx="156.1" cy="388.6" r="0.95" fill="#3d88f2"/>
<circle cx="156.1" cy="389.1" r="0.9" fill="#25257c"/>
<circle cx="158.0" cy="390.2" r="0.95" fill="#3d88f2"/>
<circle cx="157.3" cy="387.7" r="0.9" fill="#25257c"/>
<circle cx="158.6" cy="385.2" r="0.9" fill="#25257c"/>
<circle cx="161.5" cy="388.0" r="0.9" fill="#25257c"/>
<circle cx="163.5" cy="388.6" r="0.9" fill="#25257c"/>
<circle cx="164.6" cy="385.9" r="0.9" fill="#25257c"/>
<circle cx="166.4" cy="388.3" r="0.95" fill="#3d88f2"/>
<circle cx="167.3" cy="387.8" r="0.95" fill="#3d88f2"/>
<circle cx="166.9" cy="385.0" r="0.9" fill="#25257c"/>
<circle cx="168.6" cy="385.5" r="0.9" fill="#25257c"/>
<circle cx="170.4" cy="389.7" r="0.95" fill="#3d88f2"/>
<circle cx="170.6" cy="386.4" r="0.9" fill="#25257c"/>
<circle cx="172.0" cy="390.1" r="0.9" fill="#25257c"/>
<circle cx="173.1" cy="390.2" r="0.9" fill="#25257c"/>
<circle cx="174.6" cy="391.3" r="0.95" fill="#3d88f2"/>
<circle cx="174.0" cy="385.5" r="0.9" fill="#25257c"/>
<circle cx="175.6" cy="390.4" r="0.95" fill="#3d88f2"/>
<circle cx="176.2" cy="384.7" r="0.9" fill="#25257c"/>
<circle cx="177.3" cy="390.6" r="0.9" fill="#25257c"/>
<circle cx="178.9" cy="390.7" r="0.9" fill="#25257c"/>
<circle cx="180.0" cy="389.0" r="0.9" fill="#25257c"/>
<circle cx="181.5" cy="390.6" r="0.9" fill="#25257c"/>
<circle cx="182.8" cy="387.2" r="0.95" fill="#3d88f2"/>
<circle cx="182.8" cy="384.0" r="0.9" fill="#25257c"/>
<circle cx="184.2" cy="389.0" r="0.95" fill="#3d88f2"/>
<circle cx="183.7" cy="390.4" r="0.9" fill="#25257c"/>
<circle cx="185.8" cy="388.0" r="0.9" fill="#25257c"/>
<circle cx="187.5" cy="386.9" r="0.9" fill="#25257c"/>
<circle cx="187.9" cy="389.7" r="0.95" fill="#3d88f2"/>
<circle cx="188.6" cy="388.4" r="0.9" fill="#25257c"/>
<circle cx="189.8" cy="391.4" r="0.9" fill="#25257c"/>
<circle cx="191.4" cy="386.7" r="0.95" fill="#3d88f2"/>
<circle cx="192.5" cy="390.4" r="0.9" fill="#25257c"/>
<circle cx="193.7" cy="390.4" r="0.95" fill="#3d88f2"/>
<circle cx="193.9" cy="387.0" r="0.9" fill="#25257c"/>
<circle cx="196.8" cy="388.5" r="0.95" fill="#3d88f2"/>
<circle cx="198.4" cy="391.4" r="0.95" fill="#3d88f2"/>
<circle cx="198.0" cy="389.8" r="0.9" fill="#25257c"/>
<circle cx="199.7" cy="389.4" r="0.95" fill="#3d88f2"/>
<circle cx="199.1" cy="389.8" r="0.9" fill="#25257c"/>
<circle cx="201.9" cy="385.9" r="0.9" fill="#25257c"/>
<circle cx="204.0" cy="389.5" r="0.95" fill="#3d88f2"/>
<circle cx="206.8" cy="388.5" r="0.9" fill="#25257c"/>
<circle cx="208.2" cy="385.2" r="0.9" fill="#25257c"/>
<circle cx="209.1" cy="387.0" r="0.95" fill="#3d88f2"/>
<circle cx="211.0" cy="391.1" r="0.95" fill="#3d88f2"/>
<circle cx="212.3" cy="390.4" r="0.95" fill="#3d88f2"/>
<circle cx="213.4" cy="388.6" r="0.95" fill="#3d88f2"/>
<circle cx="213.7" cy="386.9" r="0.9" fill="#25257c"/>
<circle cx="214.5" cy="388.0" r="0.9" fill="#25257c"/>
<circle cx="216.8" cy="389.4" r="0.95" fill="#3d88f2"/>
<circle cx="217.9" cy="388.4" r="0.95" fill="#3d88f2"/>
<circle cx="218.3" cy="391.0" r="0.9" fill="#25257c"/>
<circle cx="219.3" cy="387.0" r="0.95" fill="#3d88f2"/>
<circle cx="218.9" cy="385.2" r="0.9" fill="#25257c"/>
<circle cx="220.2" cy="389.9" r="0.95" fill="#3d88f2"/>
<circle cx="220.2" cy="391.2" r="0.9" fill="#25257c"/>
<circle cx="222.2" cy="383.6" r="0.9" fill="#25257c"/>
<circle cx="59.8" cy="377.8" r="1.0" fill="#24247e"/>
<circle cx="58.3" cy="380.2" r="1.0" fill="#24247e"/>
<circle cx="100.6" cy="381.2" r="1.0" fill="#24247e"/>
<circle cx="111.2" cy="380.6" r="1.0" fill="#24247e"/>
<circle cx="82.3" cy="383.0" r="1.0" fill="#24247e"/>
<circle cx="148.5" cy="380.8" r="0.95" fill="#24247e"/>
<circle cx="149.0" cy="382.5" r="0.95" fill="#24247e"/>
<circle cx="149.4" cy="384.2" r="0.95" fill="#24247e"/>
<circle cx="149.3" cy="385.9" r="0.95" fill="#24247e"/>
<circle cx="149.0" cy="387.6" r="0.95" fill="#24247e"/>
<circle cx="148.4" cy="389.3" r="0.95" fill="#24247e"/>
<circle cx="150.5" cy="380.8" r="0.95" fill="#24247e"/>
<circle cx="151.0" cy="382.5" r="0.95" fill="#24247e"/>
<circle cx="151.4" cy="384.2" r="0.95" fill="#24247e"/>
<circle cx="151.3" cy="385.9" r="0.95" fill="#24247e"/>
<circle cx="151.0" cy="387.6" r="0.95" fill="#24247e"/>
<circle cx="150.4" cy="389.3" r="0.95" fill="#24247e"/>
<circle cx="164.5" cy="380.8" r="0.95" fill="#24247e"/>
<circle cx="165.0" cy="382.5" r="0.95" fill="#24247e"/>
<circle cx="165.4" cy="384.2" r="0.95" fill="#24247e"/>
<circle cx="165.3" cy="385.9" r="0.95" fill="#24247e"/>
<circle cx="165.0" cy="387.6" r="0.95" fill="#24247e"/>
<circle cx="164.4" cy="389.3" r="0.95" fill="#24247e"/>
<circle cx="173.2" cy="380.8" r="0.95" fill="#24247e"/>
<circle cx="173.7" cy="382.5" r="0.95" fill="#24247e"/>
<circle cx="174.1" cy="384.2" r="0.95" fill="#24247e"/>
<circle cx="174.0" cy="385.9" r="0.95" fill="#24247e"/>
<circle cx="173.7" cy="387.6" r="0.95" fill="#24247e"/>
<circle cx="173.1" cy="389.3" r="0.95" fill="#24247e"/>
<circle cx="185.2" cy="380.8" r="0.95" fill="#24247e"/>
<circle cx="185.7" cy="382.5" r="0.95" fill="#24247e"/>
<circle cx="186.1" cy="384.2" r="0.95" fill="#24247e"/>
<circle cx="186.0" cy="385.9" r="0.95" fill="#24247e"/>
<circle cx="185.7" cy="387.6" r="0.95" fill="#24247e"/>
<circle cx="185.1" cy="389.3" r="0.95" fill="#24247e"/>
<circle cx="202.0" cy="380.8" r="0.95" fill="#24247e"/>
<circle cx="202.5" cy="382.5" r="0.95" fill="#24247e"/>
<circle cx="202.9" cy="384.2" r="0.95" fill="#24247e"/>
<circle cx="202.8" cy="385.9" r="0.95" fill="#24247e"/>
<circle cx="202.5" cy="387.6" r="0.95" fill="#24247e"/>
<circle cx="201.9" cy="389.3" r="0.95" fill="#24247e"/>
<circle cx="211.0" cy="380.8" r="0.95" fill="#24247e"/>
<circle cx="211.5" cy="382.5" r="0.95" fill="#24247e"/>
<circle cx="211.9" cy="384.2" r="0.95" fill="#24247e"/>
<circle cx="211.8" cy="385.9" r="0.95" fill="#24247e"/>
<circle cx="211.5" cy="387.6" r="0.95" fill="#24247e"/>
<circle cx="210.9" cy="389.3" r="0.95" fill="#24247e"/>
<circle cx="37.7" cy="393.3" r="1.0" fill="#0866fc"/>
<circle cx="42.5" cy="393.4" r="1.0" fill="#0866fc"/>
<circle cx="40.8" cy="392.7" r="1.0" fill="#0866fc"/>
<circle cx="33.8" cy="392.2" r="1.0" fill="#0866fc"/>
<circle cx="33.5" cy="392.5" r="1.0" fill="#0866fc"/>
<circle cx="34.0" cy="393.4" r="1.0" fill="#0866fc"/>
<circle cx="39.2" cy="390.1" r="1.0" fill="#0866fc"/>
<circle cx="34.8" cy="393.1" r="1.0" fill="#0866fc"/>
<circle cx="42.2" cy="387.7" r="1.0" fill="#0866fc"/>
<circle cx="41.4" cy="392.6" r="1.0" fill="#0866fc"/>
<circle cx="47.3" cy="393.5" r="1.0" fill="#0866fc"/>
<circle cx="45.5" cy="392.9" r="1.0" fill="#0866fc"/>
<circle cx="35.1" cy="393.3" r="1.0" fill="#0866fc"/>
<circle cx="37.5" cy="390.2" r="1.0" fill="#0866fc"/>
<circle cx="35.6" cy="391.9" r="1.0" fill="#0866fc"/>
<circle cx="42.3" cy="392.7" r="1.0" fill="#0866fc"/>
<circle cx="41.0" cy="393.5" r="1.0" fill="#0866fc"/>
<circle cx="33.9" cy="393.1" r="1.0" fill="#0866fc"/>
<circle cx="42.9" cy="392.5" r="1.0" fill="#0866fc"/>
<circle cx="37.6" cy="391.8" r="1.0" fill="#0866fc"/>
<circle cx="39.6" cy="392.9" r="1.0" fill="#0866fc"/>
<circle cx="44.6" cy="391.2" r="1.0" fill="#0866fc"/>
<circle cx="36.6" cy="391.9" r="1.0" fill="#0866fc"/>
<circle cx="40.7" cy="389.4" r="1.0" fill="#0866fc"/>
<circle cx="43.6" cy="392.9" r="1.0" fill="#0866fc"/>
<circle cx="47.3" cy="393.3" r="1.0" fill="#0866fc"/>
<circle cx="39.1" cy="390.8" r="1.0" fill="#0866fc"/>
<circle cx="35.2" cy="392.3" r="1.0" fill="#0866fc"/>
<circle cx="33.6" cy="391.4" r="1.0" fill="#0866fc"/>
<circle cx="44.2" cy="391.9" r="1.0" fill="#0866fc"/>
<circle cx="45.8" cy="392.8" r="1.0" fill="#0866fc"/>
<circle cx="57.4" cy="390.8" r="1.0" fill="#343596"/>
<circle cx="56.0" cy="391.4" r="1.0" fill="#343596"/>
<circle cx="59.2" cy="386.8" r="1.0" fill="#343596"/>
<circle cx="54.7" cy="390.4" r="1.0" fill="#343596"/>
<circle cx="49.6" cy="390.2" r="1.0" fill="#343596"/>
<circle cx="56.8" cy="389.1" r="1.0" fill="#343596"/>
<circle cx="52.3" cy="391.6" r="1.0" fill="#343596"/>
<circle cx="57.1" cy="392.6" r="1.0" fill="#343596"/>
<circle cx="54.5" cy="392.2" r="1.0" fill="#343596"/>
<circle cx="50.3" cy="392.5" r="1.0" fill="#343596"/>
<circle cx="58.3" cy="392.3" r="1.0" fill="#343596"/>
<circle cx="51.9" cy="391.6" r="1.0" fill="#343596"/>
<circle cx="59.6" cy="392.4" r="1.0" fill="#343596"/>
<circle cx="54.4" cy="391.0" r="1.0" fill="#343596"/>
<circle cx="59.8" cy="389.2" r="1.0" fill="#343596"/>
<circle cx="59.5" cy="391.9" r="1.0" fill="#343596"/>
<circle cx="53.9" cy="391.7" r="1.0" fill="#343596"/>
<circle cx="59.8" cy="386.3" r="1.0" fill="#343596"/>
<circle cx="50.7" cy="392.2" r="1.0" fill="#343596"/>
<circle cx="51.7" cy="392.1" r="1.0" fill="#343596"/>
<circle cx="54.8" cy="390.8" r="1.0" fill="#343596"/>
<circle cx="52.1" cy="392.6" r="1.0" fill="#343596"/>
<circle cx="54.0" cy="391.7" r="1.0" fill="#343596"/>
<circle cx="55.8" cy="386.5" r="1.0" fill="#343596"/>
<circle cx="57.4" cy="391.2" r="1.0" fill="#343596"/>
<circle cx="56.5" cy="390.3" r="1.0" fill="#343596"/>
<circle cx="49.5" cy="388.0" r="1.0" fill="#343596"/>
<circle cx="72.3" cy="389.4" r="1.0" fill="#0866fc"/>
<circle cx="72.5" cy="392.6" r="1.0" fill="#0866fc"/>
<circle cx="67.5" cy="393.4" r="1.0" fill="#0866fc"/>
<circle cx="70.5" cy="393.5" r="1.0" fill="#0866fc"/>
<circle cx="63.3" cy="393.1" r="1.0" fill="#0866fc"/>
<circle cx="64.5" cy="392.8" r="1.0" fill="#0866fc"/>
<circle cx="63.1" cy="393.6" r="1.0" fill="#0866fc"/>
<circle cx="64.3" cy="393.4" r="1.0" fill="#0866fc"/>
<circle cx="67.0" cy="393.5" r="1.0" fill="#0866fc"/>
<circle cx="73.5" cy="391.7" r="1.0" fill="#0866fc"/>
<circle cx="64.3" cy="393.0" r="1.0" fill="#0866fc"/>
<circle cx="66.8" cy="392.7" r="1.0" fill="#0866fc"/>
<circle cx="64.0" cy="389.8" r="1.0" fill="#0866fc"/>
<circle cx="75.0" cy="392.3" r="1.0" fill="#0866fc"/>
<circle cx="68.5" cy="393.4" r="1.0" fill="#0866fc"/>
<circle cx="63.7" cy="392.8" r="1.0" fill="#0866fc"/>
<circle cx="65.8" cy="390.1" r="1.0" fill="#0866fc"/>
<circle cx="64.5" cy="393.6" r="1.0" fill="#0866fc"/>
<circle cx="74.5" cy="392.1" r="1.0" fill="#0866fc"/>
<circle cx="64.3" cy="392.0" r="1.0" fill="#0866fc"/>
<circle cx="62.7" cy="392.1" r="1.0" fill="#0866fc"/>
<circle cx="74.8" cy="389.6" r="1.0" fill="#0866fc"/>
<circle cx="71.2" cy="393.0" r="1.0" fill="#0866fc"/>
<circle cx="67.1" cy="393.2" r="1.0" fill="#0866fc"/>
<circle cx="72.2" cy="392.1" r="1.0" fill="#0866fc"/>
<circle cx="72.3" cy="392.8" r="1.0" fill="#0866fc"/>
<circle cx="65.2" cy="390.3" r="1.0" fill="#0866fc"/>
<circle cx="87.0" cy="388.8" r="1.0" fill="#343596"/>
<circle cx="85.1" cy="389.2" r="1.0" fill="#343596"/>
<circle cx="84.4" cy="392.1" r="1.0" fill="#343596"/>
<circle cx="81.9" cy="391.7" r="1.0" fill="#343596"/>
<circle cx="76.6" cy="392.5" r="1.0" fill="#343596"/>
<circle cx="79.3" cy="392.0" r="1.0" fill="#343596"/>
<circle cx="83.8" cy="386.3" r="1.0" fill="#343596"/>
<circle cx="81.2" cy="387.1" r="1.0" fill="#343596"/>
<circle cx="87.1" cy="386.4" r="1.0" fill="#343596"/>
<circle cx="80.3" cy="392.1" r="1.0" fill="#343596"/>
<circle cx="78.8" cy="392.2" r="1.0" fill="#343596"/>
<circle cx="78.5" cy="390.6" r="1.0" fill="#343596"/>
<circle cx="86.1" cy="388.9" r="1.0" fill="#343596"/>
<circle cx="81.5" cy="390.5" r="1.0" fill="#343596"/>
<circle cx="85.0" cy="392.4" r="1.0" fill="#343596"/>
<circle cx="83.5" cy="387.8" r="1.0" fill="#343596"/>
<circle cx="84.8" cy="389.8" r="1.0" fill="#343596"/>
<circle cx="81.5" cy="392.2" r="1.0" fill="#343596"/>
<circle cx="84.9" cy="391.8" r="1.0" fill="#343596"/>
<circle cx="85.0" cy="385.5" r="1.0" fill="#343596"/>
<circle cx="80.6" cy="391.6" r="1.0" fill="#343596"/>
<circle cx="86.6" cy="390.0" r="1.0" fill="#343596"/>
<circle cx="78.2" cy="392.3" r="1.0" fill="#343596"/>
<circle cx="77.9" cy="387.9" r="1.0" fill="#343596"/>
<circle cx="95.7" cy="393.3" r="1.0" fill="#0866fc"/>
<circle cx="95.9" cy="385.7" r="1.0" fill="#0866fc"/>
<circle cx="94.4" cy="392.7" r="1.0" fill="#0866fc"/>
<circle cx="93.4" cy="393.3" r="1.0" fill="#0866fc"/>
<circle cx="88.5" cy="386.5" r="1.0" fill="#0866fc"/>
<circle cx="94.3" cy="392.1" r="1.0" fill="#0866fc"/>
<circle cx="96.9" cy="392.5" r="1.0" fill="#0866fc"/>
<circle cx="96.3" cy="390.1" r="1.0" fill="#0866fc"/>
<circle cx="90.3" cy="393.0" r="1.0" fill="#0866fc"/>
<circle cx="91.1" cy="393.0" r="1.0" fill="#0866fc"/>
<circle cx="93.7" cy="393.0" r="1.0" fill="#0866fc"/>
<circle cx="92.2" cy="393.3" r="1.0" fill="#0866fc"/>
<circle cx="96.7" cy="392.7" r="1.0" fill="#0866fc"/>
<circle cx="92.6" cy="391.8" r="1.0" fill="#0866fc"/>
<circle cx="96.6" cy="392.5" r="1.0" fill="#0866fc"/>
<circle cx="96.8" cy="392.2" r="1.0" fill="#0866fc"/>
<circle cx="93.2" cy="392.1" r="1.0" fill="#0866fc"/>
<circle cx="88.6" cy="392.4" r="1.0" fill="#0866fc"/>
<circle cx="90.1" cy="393.6" r="1.0" fill="#0866fc"/>
<circle cx="95.7" cy="393.2" r="1.0" fill="#0866fc"/>
<circle cx="103.1" cy="389.0" r="1.0" fill="#343596"/>
<circle cx="103.8" cy="390.8" r="1.0" fill="#343596"/>
<circle cx="103.5" cy="390.0" r="1.0" fill="#343596"/>
<circle cx="105.9" cy="391.4" r="1.0" fill="#343596"/>
<circle cx="103.9" cy="391.0" r="1.0" fill="#343596"/>
<circle cx="101.2" cy="388.6" r="1.0" fill="#343596"/>
<circle cx="103.4" cy="390.0" r="1.0" fill="#343596"/>
<circle cx="105.7" cy="386.7" r="1.0" fill="#343596"/>
<circle cx="102.8" cy="389.7" r="1.0" fill="#343596"/>
<circle cx="103.4" cy="390.2" r="1.0" fill="#343596"/>
<circle cx="105.1" cy="390.4" r="1.0" fill="#343596"/>
<circle cx="103.6" cy="390.3" r="1.0" fill="#343596"/>
<circle cx="107.4" cy="389.2" r="1.0" fill="#343596"/>
<circle cx="106.8" cy="385.9" r="1.0" fill="#343596"/>
<circle cx="101.1" cy="390.0" r="1.0" fill="#343596"/>
<circle cx="107.4" cy="387.9" r="1.0" fill="#343596"/>
<circle cx="100.0" cy="391.3" r="1.0" fill="#343596"/>
<circle cx="102.8" cy="391.4" r="1.0" fill="#343596"/>
<circle cx="100.9" cy="391.4" r="1.0" fill="#343596"/>
<circle cx="104.9" cy="388.5" r="1.0" fill="#343596"/>
<circle cx="117.3" cy="392.1" r="1.0" fill="#0866fc"/>
<circle cx="115.6" cy="390.2" r="1.0" fill="#0866fc"/>
<circle cx="110.4" cy="388.1" r="1.0" fill="#0866fc"/>
<circle cx="117.9" cy="391.9" r="1.0" fill="#0866fc"/>
<circle cx="117.8" cy="391.4" r="1.0" fill="#0866fc"/>
<circle cx="113.5" cy="383.2" r="1.0" fill="#0866fc"/>
<circle cx="116.7" cy="392.0" r="1.0" fill="#0866fc"/>
<circle cx="113.0" cy="391.0" r="1.0" fill="#0866fc"/>
<circle cx="112.2" cy="392.0" r="1.0" fill="#0866fc"/>
<circle cx="112.0" cy="389.8" r="1.0" fill="#0866fc"/>
<circle cx="109.3" cy="390.8" r="1.0" fill="#0866fc"/>
<circle cx="113.1" cy="392.4" r="1.0" fill="#0866fc"/>
<circle cx="112.1" cy="390.4" r="1.0" fill="#0866fc"/>
<circle cx="113.8" cy="392.3" r="1.0" fill="#0866fc"/>
<circle cx="118.1" cy="389.3" r="1.0" fill="#0866fc"/>
<circle cx="117.9" cy="392.2" r="1.0" fill="#0866fc"/>
<circle cx="111.5" cy="392.3" r="1.0" fill="#0866fc"/>
<circle cx="116.2" cy="391.8" r="1.0" fill="#0866fc"/>
<circle cx="110.3" cy="391.3" r="1.0" fill="#0866fc"/>
<circle cx="117.4" cy="389.0" r="1.0" fill="#0866fc"/>
<circle cx="121.6" cy="391.3" r="1.0" fill="#343596"/>
<circle cx="127.3" cy="389.9" r="1.0" fill="#343596"/>
<circle cx="125.4" cy="391.4" r="1.0" fill="#343596"/>
<circle cx="119.9" cy="389.3" r="1.0" fill="#343596"/>
<circle cx="123.1" cy="391.4" r="1.0" fill="#343596"/>
<circle cx="127.5" cy="389.6" r="1.0" fill="#343596"/>
<circle cx="126.3" cy="391.4" r="1.0" fill="#343596"/>
<circle cx="126.8" cy="391.5" r="1.0" fill="#343596"/>
<circle cx="126.8" cy="390.4" r="1.0" fill="#343596"/>
<circle cx="122.3" cy="390.0" r="1.0" fill="#343596"/>
<circle cx="127.4" cy="391.0" r="1.0" fill="#343596"/>
<circle cx="120.5" cy="390.1" r="1.0" fill="#343596"/>
<circle cx="121.5" cy="391.4" r="1.0" fill="#343596"/>
<circle cx="120.8" cy="391.5" r="1.0" fill="#343596"/>
<circle cx="121.1" cy="390.9" r="1.0" fill="#343596"/>
<circle cx="122.0" cy="388.7" r="1.0" fill="#343596"/>
<circle cx="121.9" cy="390.2" r="1.0" fill="#343596"/>
<circle cx="120.9" cy="390.7" r="1.0" fill="#343596"/>
<circle cx="119.6" cy="391.0" r="1.0" fill="#343596"/>
<circle cx="129.3" cy="389.8" r="1.0" fill="#0866fc"/>
<circle cx="133.1" cy="392.0" r="1.0" fill="#0866fc"/>
<circle cx="132.5" cy="386.9" r="1.0" fill="#0866fc"/>
<circle cx="129.9" cy="389.0" r="1.0" fill="#0866fc"/>
<circle cx="132.2" cy="391.0" r="1.0" fill="#0866fc"/>
<circle cx="135.0" cy="391.4" r="1.0" fill="#0866fc"/>
<circle cx="132.7" cy="390.1" r="1.0" fill="#0866fc"/>
<circle cx="136.1" cy="391.6" r="1.0" fill="#0866fc"/>
<circle cx="135.0" cy="389.9" r="1.0" fill="#0866fc"/>
<circle cx="133.7" cy="391.4" r="1.0" fill="#0866fc"/>
<circle cx="131.6" cy="392.3" r="1.0" fill="#0866fc"/>
<circle cx="130.1" cy="392.3" r="1.0" fill="#0866fc"/>
<circle cx="134.4" cy="391.8" r="1.0" fill="#0866fc"/>
<circle cx="130.3" cy="392.2" r="1.0" fill="#0866fc"/>
<circle cx="135.1" cy="388.3" r="1.0" fill="#0866fc"/>
<circle cx="133.9" cy="391.7" r="1.0" fill="#0866fc"/>
<circle cx="139.2" cy="390.9" r="1.0" fill="#343596"/>
<circle cx="140.8" cy="391.3" r="1.0" fill="#343596"/>
<circle cx="140.7" cy="391.0" r="1.0" fill="#343596"/>
<circle cx="144.4" cy="384.4" r="1.0" fill="#343596"/>
<circle cx="141.4" cy="391.0" r="1.0" fill="#343596"/>
<circle cx="144.4" cy="390.9" r="1.0" fill="#343596"/>
<circle cx="140.0" cy="391.6" r="1.0" fill="#343596"/>
<circle cx="140.2" cy="390.3" r="1.0" fill="#343596"/>
<circle cx="141.1" cy="391.2" r="1.0" fill="#343596"/>
<circle cx="141.1" cy="391.6" r="1.0" fill="#343596"/>
<circle cx="139.3" cy="391.4" r="1.0" fill="#343596"/>
<circle cx="140.3" cy="391.5" r="1.0" fill="#343596"/>
<circle cx="137.6" cy="390.9" r="1.0" fill="#343596"/>
<circle cx="139.1" cy="389.8" r="1.0" fill="#343596"/>
<circle cx="141.3" cy="388.8" r="1.0" fill="#343596"/>
<circle cx="142.2" cy="389.1" r="1.0" fill="#343596"/>
<circle cx="143.8" cy="390.6" r="1.0" fill="#343596"/>
<circle cx="148.1" cy="384.0" r="1.0" fill="#0866fc"/>
<circle cx="146.9" cy="389.8" r="1.0" fill="#0866fc"/>
<circle cx="150.1" cy="392.3" r="1.0" fill="#0866fc"/>
<circle cx="151.4" cy="387.9" r="1.0" fill="#0866fc"/>
<circle cx="150.0" cy="389.8" r="1.0" fill="#0866fc"/>
<circle cx="151.3" cy="392.1" r="1.0" fill="#0866fc"/>
<circle cx="149.4" cy="391.0" r="1.0" fill="#0866fc"/>
<circle cx="151.4" cy="389.1" r="1.0" fill="#0866fc"/>
<circle cx="151.4" cy="390.6" r="1.0" fill="#0866fc"/>
<circle cx="151.8" cy="390.1" r="1.0" fill="#0866fc"/>
<circle cx="150.5" cy="391.9" r="1.0" fill="#0866fc"/>
<circle cx="146.1" cy="392.1" r="1.0" fill="#0866fc"/>
<circle cx="148.3" cy="392.2" r="1.0" fill="#0866fc"/>
<circle cx="151.4" cy="390.8" r="1.0" fill="#0866fc"/>
<circle cx="150.0" cy="390.4" r="1.0" fill="#0866fc"/>
<circle cx="158.9" cy="390.3" r="1.0" fill="#343596"/>
<circle cx="153.7" cy="388.4" r="1.0" fill="#343596"/>
<circle cx="159.4" cy="390.2" r="1.0" fill="#343596"/>
<circle cx="157.8" cy="389.4" r="1.0" fill="#343596"/>
<circle cx="154.2" cy="388.9" r="1.0" fill="#343596"/>
<circle cx="155.6" cy="391.4" r="1.0" fill="#343596"/>
<circle cx="155.7" cy="389.0" r="1.0" fill="#343596"/>
<circle cx="155.3" cy="388.9" r="1.0" fill="#343596"/>
<circle cx="161.1" cy="390.2" r="1.0" fill="#343596"/>
<circle cx="156.6" cy="390.3" r="1.0" fill="#343596"/>
<circle cx="158.9" cy="388.7" r="1.0" fill="#343596"/>
<circle cx="158.4" cy="389.5" r="1.0" fill="#343596"/>
<circle cx="154.3" cy="391.3" r="1.0" fill="#343596"/>
<circle cx="155.6" cy="388.9" r="1.0" fill="#343596"/>
<circle cx="156.0" cy="389.9" r="1.0" fill="#343596"/>
<circle cx="153.8" cy="391.5" r="1.0" fill="#343596"/>
<circle cx="155.7" cy="389.4" r="1.0" fill="#343596"/>
<circle cx="167.0" cy="390.1" r="1.0" fill="#0866fc"/>
<circle cx="164.4" cy="390.9" r="1.0" fill="#0866fc"/>
<circle cx="165.5" cy="391.1" r="1.0" fill="#0866fc"/>
<circle cx="163.3" cy="387.9" r="1.0" fill="#0866fc"/>
<circle cx="163.8" cy="384.8" r="1.0" fill="#0866fc"/>
<circle cx="168.6" cy="392.4" r="1.0" fill="#0866fc"/>
<circle cx="165.5" cy="389.0" r="1.0" fill="#0866fc"/>
<circle cx="168.8" cy="391.2" r="1.0" fill="#0866fc"/>
<circle cx="164.2" cy="391.9" r="1.0" fill="#0866fc"/>
<circle cx="168.6" cy="391.9" r="1.0" fill="#0866fc"/>
<circle cx="166.3" cy="392.1" r="1.0" fill="#0866fc"/>
<circle cx="165.9" cy="386.3" r="1.0" fill="#0866fc"/>
<circle cx="163.4" cy="389.0" r="1.0" fill="#0866fc"/>
<circle cx="165.8" cy="388.0" r="1.0" fill="#0866fc"/>
<circle cx="167.1" cy="391.9" r="1.0" fill="#0866fc"/>
<circle cx="174.7" cy="390.3" r="1.0" fill="#343596"/>
<circle cx="170.3" cy="391.6" r="1.0" fill="#343596"/>
<circle cx="172.7" cy="390.4" r="1.0" fill="#343596"/>
<circle cx="171.7" cy="391.3" r="1.0" fill="#343596"/>
<circle cx="171.9" cy="390.8" r="1.0" fill="#343596"/>
<circle cx="174.4" cy="391.6" r="1.0" fill="#343596"/>
<circle cx="174.0" cy="387.9" r="1.0" fill="#343596"/>
<circle cx="170.8" cy="386.4" r="1.0" fill="#343596"/>
<circle cx="173.8" cy="387.0" r="1.0" fill="#343596"/>
<circle cx="171.6" cy="390.7" r="1.0" fill="#343596"/>
<circle cx="172.2" cy="389.8" r="1.0" fill="#343596"/>
<circle cx="172.0" cy="390.5" r="1.0" fill="#343596"/>
<circle cx="177.6" cy="392.3" r="1.0" fill="#0866fc"/>
<circle cx="176.8" cy="388.8" r="1.0" fill="#0866fc"/>
<circle cx="177.6" cy="386.9" r="1.0" fill="#0866fc"/>
<circle cx="177.4" cy="391.8" r="1.0" fill="#0866fc"/>
<circle cx="178.5" cy="392.0" r="1.0" fill="#0866fc"/>
<circle cx="178.0" cy="386.1" r="1.0" fill="#0866fc"/>
<circle cx="180.1" cy="389.1" r="1.0" fill="#0866fc"/>
<circle cx="179.0" cy="387.5" r="1.0" fill="#0866fc"/>
<circle cx="180.4" cy="390.8" r="1.0" fill="#0866fc"/>
<circle cx="179.4" cy="392.3" r="1.0" fill="#0866fc"/>
<circle cx="184.8" cy="390.4" r="1.0" fill="#343596"/>
<circle cx="184.9" cy="389.5" r="1.0" fill="#343596"/>
<circle cx="183.0" cy="391.5" r="1.0" fill="#343596"/>
<circle cx="185.6" cy="391.3" r="1.0" fill="#343596"/>
<circle cx="183.7" cy="390.8" r="1.0" fill="#343596"/>
<circle cx="183.0" cy="388.9" r="1.0" fill="#343596"/>
<circle cx="185.8" cy="391.0" r="1.0" fill="#343596"/>
<circle cx="184.5" cy="390.9" r="1.0" fill="#343596"/>
<circle cx="184.1" cy="390.6" r="1.0" fill="#343596"/>
<circle cx="182.5" cy="391.2" r="1.0" fill="#343596"/>
<circle cx="187.8" cy="387.7" r="1.0" fill="#0866fc"/>
<circle cx="188.8" cy="391.9" r="1.0" fill="#0866fc"/>
<circle cx="190.3" cy="391.2" r="1.0" fill="#0866fc"/>
<circle cx="187.6" cy="392.0" r="1.0" fill="#0866fc"/>
<circle cx="187.4" cy="391.6" r="1.0" fill="#0866fc"/>
<circle cx="187.4" cy="391.9" r="1.0" fill="#0866fc"/>
<circle cx="188.0" cy="390.7" r="1.0" fill="#0866fc"/>
<circle cx="190.2" cy="389.6" r="1.0" fill="#0866fc"/>
<circle cx="188.5" cy="391.3" r="1.0" fill="#0866fc"/>
<circle cx="193.9" cy="390.7" r="1.0" fill="#343596"/>
<circle cx="193.2" cy="391.5" r="1.0" fill="#343596"/>
<circle cx="192.9" cy="384.7" r="1.0" fill="#343596"/>
<circle cx="192.3" cy="390.2" r="1.0" fill="#343596"/>
<circle cx="194.4" cy="387.6" r="1.0" fill="#343596"/>
<circle cx="192.7" cy="391.0" r="1.0" fill="#343596"/>
<circle cx="192.8" cy="390.6" r="1.0" fill="#343596"/>
<circle cx="193.6" cy="385.4" r="1.0" fill="#343596"/>
<circle cx="195.3" cy="387.5" r="1.0" fill="#343596"/>
<circle cx="191.9" cy="391.5" r="1.0" fill="#343596"/>
<circle cx="199.0" cy="387.9" r="1.0" fill="#0866fc"/>
<circle cx="198.4" cy="390.6" r="1.0" fill="#0866fc"/>
<circle cx="197.1" cy="391.4" r="1.0" fill="#0866fc"/>
<circle cx="199.6" cy="388.9" r="1.0" fill="#0866fc"/>
<circle cx="199.4" cy="385.2" r="1.0" fill="#0866fc"/>
<circle cx="197.8" cy="392.2" r="1.0" fill="#0866fc"/>
<circle cx="197.5" cy="390.9" r="1.0" fill="#0866fc"/>
<circle cx="202.8" cy="385.9" r="1.0" fill="#343596"/>
<circle cx="202.9" cy="389.5" r="1.0" fill="#343596"/>
<circle cx="203.0" cy="390.4" r="1.0" fill="#343596"/>
<circle cx="202.4" cy="391.5" r="1.0" fill="#343596"/>
<circle cx="203.0" cy="391.1" r="1.0" fill="#343596"/>
<circle cx="203.4" cy="389.5" r="1.0" fill="#343596"/>
<circle cx="201.8" cy="391.3" r="1.0" fill="#343596"/>
<circle cx="205.3" cy="390.4" r="1.0" fill="#0866fc"/>
<circle cx="206.1" cy="392.2" r="1.0" fill="#0866fc"/>
<circle cx="204.9" cy="390.9" r="1.0" fill="#0866fc"/>
<circle cx="205.9" cy="391.4" r="1.0" fill="#0866fc"/>
<circle cx="205.2" cy="390.6" r="1.0" fill="#0866fc"/>
<circle cx="204.8" cy="391.7" r="1.0" fill="#0866fc"/>
<circle cx="208.8" cy="385.2" r="1.0" fill="#343596"/>
<circle cx="209.1" cy="387.3" r="1.0" fill="#343596"/>
<circle cx="208.8" cy="391.1" r="1.0" fill="#343596"/>
<circle cx="208.4" cy="385.1" r="1.0" fill="#343596"/>
<circle cx="209.2" cy="390.9" r="1.0" fill="#343596"/>
<circle cx="207.9" cy="390.2" r="1.0" fill="#343596"/>
<circle cx="216.9" cy="391.3" r="1.0" fill="#0866fc"/>
<circle cx="213.3" cy="390.2" r="1.0" fill="#0866fc"/>
<circle cx="219.1" cy="391.9" r="1.0" fill="#0866fc"/>
<circle cx="211.3" cy="391.6" r="1.0" fill="#0866fc"/>
<circle cx="214.7" cy="390.1" r="1.0" fill="#0866fc"/>
<circle cx="212.7" cy="389.2" r="1.0" fill="#0866fc"/>
<circle cx="217.5" cy="391.0" r="1.0" fill="#0866fc"/>
<circle cx="212.8" cy="385.4" r="1.0" fill="#0866fc"/>
<circle cx="213.7" cy="389.0" r="1.0" fill="#0866fc"/>
<circle cx="213.0" cy="391.9" r="1.0" fill="#0866fc"/>
<circle cx="217.7" cy="391.7" r="1.0" fill="#0866fc"/>
<circle cx="219.4" cy="391.0" r="1.0" fill="#0866fc"/>
<circle cx="212.6" cy="391.9" r="1.0" fill="#0866fc"/>
<circle cx="214.7" cy="390.2" r="1.0" fill="#0866fc"/>
<circle cx="219.3" cy="392.1" r="1.0" fill="#0866fc"/>
<circle cx="214.5" cy="391.9" r="1.0" fill="#0866fc"/>
<circle cx="219.6" cy="392.1" r="1.0" fill="#0866fc"/>
<circle cx="211.5" cy="392.3" r="1.0" fill="#0866fc"/>
<circle cx="214.5" cy="387.8" r="1.0" fill="#0866fc"/>
<circle cx="218.8" cy="389.8" r="1.0" fill="#0866fc"/>
<circle cx="222.4" cy="386.2" r="1.0" fill="#343596"/>
<circle cx="221.5" cy="391.2" r="1.0" fill="#343596"/>
<circle cx="222.3" cy="388.9" r="1.0" fill="#343596"/>
<circle cx="221.0" cy="389.4" r="1.0" fill="#343596"/>
<circle cx="221.5" cy="390.7" r="1.0" fill="#343596"/>
<line x1="25.8" y1="379.5" x2="222.3" y2="379.5" stroke="#848a9a" stroke-width="1"/>
<circle cx="145.5" cy="337.5" r="1.3" fill="#d01818"/>
<circle cx="145.5" cy="362.1" r="1.3" fill="#d01818"/>
<circle cx="145.5" cy="369.3" r="1.3" fill="#d01818"/>
<circle cx="145.5" cy="371.4" r="1.3" fill="#d01818"/>
<circle cx="145.5" cy="373.8" r="1.3" fill="#d01818"/>
<text x="40.4" y="448.7" font-size="6.4" font-weight="bold" text-anchor="middle" fill="#000" stroke="#000" stroke-width="0.35">1</text>
<text x="55.3" y="448.7" font-size="6.4" font-weight="bold" text-anchor="middle" fill="#000" stroke="#000" stroke-width="0.35">2</text>
<text x="69.2" y="448.7" font-size="6.4" font-weight="bold" text-anchor="middle" fill="#000" stroke="#000" stroke-width="0.35">3</text>
<text x="81.4" y="448.7" font-size="6.4" font-weight="bold" text-anchor="middle" fill="#000" stroke="#000" stroke-width="0.35">4</text>
<text x="93" y="448.7" font-size="6.4" font-weight="bold" text-anchor="middle" fill="#000" stroke="#000" stroke-width="0.35">5</text>
<text x="104.4" y="448.7" font-size="6.4" font-weight="bold" text-anchor="middle" fill="#000" stroke="#000" stroke-width="0.35">6</text>
<text x="114.4" y="448.7" font-size="6.4" font-weight="bold" text-anchor="middle" fill="#000" stroke="#000" stroke-width="0.35">7</text>
<text x="124.2" y="448.7" font-size="6.4" font-weight="bold" text-anchor="middle" fill="#000" stroke="#000" stroke-width="0.35">8</text>
<text x="132.4" y="448.7" font-size="6.4" font-weight="bold" text-anchor="middle" fill="#000" stroke="#000" stroke-width="0.35">9</text>
<text x="142.2" y="448.7" font-size="6.4" font-weight="bold" text-anchor="middle" fill="#000" stroke="#000" stroke-width="0.35">10</text>
<text x="150.1" y="448.7" font-size="6.4" font-weight="bold" text-anchor="middle" fill="#000" stroke="#000" stroke-width="0.35">11</text>
<text x="159.1" y="448.7" font-size="6.4" font-weight="bold" text-anchor="middle" fill="#000" stroke="#000" stroke-width="0.35">12</text>
<text x="171.3" y="448.7" font-size="6.4" font-weight="bold" text-anchor="middle" fill="#000" stroke="#000" stroke-width="0.35" textLength="13.3" lengthAdjust="spacingAndGlyphs">1314</text>
<text x="185.8" y="448.7" font-size="6.4" font-weight="bold" text-anchor="middle" fill="#000" stroke="#000" stroke-width="0.35">16</text>
<text x="197.1" y="448.7" font-size="6.4" font-weight="bold" text-anchor="middle" fill="#000" stroke="#000" stroke-width="0.35">18</text>
<text x="210.3" y="448.7" font-size="6.4" font-weight="bold" text-anchor="middle" fill="#000" stroke="#000" stroke-width="0.35" textLength="16.9" lengthAdjust="spacingAndGlyphs">2022x</text>
<text x="222.2" y="448.7" font-size="6.4" font-weight="bold" text-anchor="middle" fill="#000" stroke="#000" stroke-width="0.35">y</text>
<text x="181.5" y="454.5" font-size="6.4" font-weight="bold" text-anchor="middle" fill="#000" stroke="#000" stroke-width="0.35">15</text>
<text x="191.8" y="454.5" font-size="6.4" font-weight="bold" text-anchor="middle" fill="#000" stroke="#000" stroke-width="0.35">17</text>
<text x="199.7" y="454.5" font-size="6.4" font-weight="bold" text-anchor="middle" fill="#000" stroke="#000" stroke-width="0.35">19</text>
<text x="207.9" y="454.5" font-size="6.4" font-weight="bold" text-anchor="middle" fill="#000" stroke="#000" stroke-width="0.35">21</text>
<text x="101.9" y="460.6" font-size="7.45" font-weight="bold" textLength="48.1" lengthAdjust="spacingAndGlyphs" fill="#000" stroke="#000" stroke-width="0.25">Chromosome</text>
<text transform="translate(6.2,388.8) rotate(-90)" font-size="7.8" font-weight="bold" text-anchor="middle" fill="#000" stroke="#000" stroke-width="0.3">-log<tspan font-size="5.5" dy="1.5">10</tspan><tspan dy="-1.5">P</tspan></text>
<rect x="286.5" y="343.5" width="232" height="106.5" fill="none" stroke="#8c8c8c" stroke-width="1.1"/>
<line x1="286.5" y1="380.5" x2="518.5" y2="380.5" stroke="#8c8c8c" stroke-width="1"/>
<line x1="286.5" y1="395.5" x2="518.5" y2="395.5" stroke="#8c8c8c" stroke-width="1"/>
<line x1="286.5" y1="410.5" x2="518.5" y2="410.5" stroke="#8c8c8c" stroke-width="1"/>
<path d="M287.2 401.7l-0.2 1.5M287.8 407.9l-0.2 2.2M287.6 398.6l-0.7 -1.9M287.8 404.2l0.2 -1.8M288.9 390.3l0.1 -1.7M288.3 394.7l0.6 -1.2M288.5 406.2h0.01M288.2 402.2l0.1 1.1M289.7 403.9l-0.7 -1.6M290.0 399.6l0.7 2.2M289.2 406.2l0.9 -1.1M289.4 410.1l0.2 1.3M290.7 409.0l0.1 -1.6M290.5 398.8l-0.0 1.9M290.9 405.4h0.01M290.5 393.4l0.2 1.6M291.1 406.8l-0.2 1.7M291.7 409.7h0.01M291.8 403.5l0.4 1.9M291.7 405.1h0.01M293.0 402.0h0.01M292.6 400.1l-0.8 -1.8M292.9 395.5h0.01M292.9 396.6l0.0 -1.5M294.0 399.7l0.9 1.6M293.3 402.0l-0.4 1.1M293.5 394.5l-0.3 -2.1M293.2 401.6l-0.7 1.3M294.2 402.5h0.01M294.7 407.0l0.9 -1.4M295.1 388.9h0.01M294.4 406.2l-0.1 -1.4M295.9 404.5h0.01M295.1 411.4l0.9 1.0M295.2 394.6l-0.4 1.4M296.0 407.1l0.8 1.2M296.5 401.7h0.01M296.7 403.0l0.8 1.3M296.5 409.2h0.01M297.1 397.3h0.01M297.5 393.1l0.1 2.0M297.1 411.7l-0.4 -1.8M298.1 408.0h0.01M298.0 392.4l0.7 -1.8M298.9 401.7l0.4 -1.9M298.2 395.2l0.3 1.4M298.2 397.8l0.4 -1.8M298.3 398.3l-0.2 -1.9M300.0 401.6l0.3 -2.0M299.5 411.1l0.3 -1.7M299.7 402.3l0.6 -1.3M299.6 399.5l0.7 -1.0M300.2 399.3l0.7 1.6M301.0 405.2l-0.7 1.7M300.4 398.1l0.4 -1.0M300.6 404.1l-0.4 1.8M302.1 404.7h0.01M301.3 401.4l-0.1 -2.2M301.3 399.2h0.01M302.0 406.3l0.4 -2.0M302.2 394.6l0.3 -2.1M302.1 402.2l0.1 -1.5M302.1 403.8l0.8 2.0M302.5 406.3l0.6 1.9M303.2 403.6l-0.5 1.5M303.3 401.4l-0.3 1.6M303.6 392.0l-0.6 1.5M303.8 395.8l0.5 1.2M304.2 406.7l0.0 -1.6M304.2 403.7h0.01M305.0 403.8l0.6 -1.4M304.6 396.1l-0.7 1.4M305.9 403.7l0.6 -1.4M305.7 396.4h0.01M305.6 396.3l0.2 -1.7M306.0 400.0h0.01M306.9 402.4l0.7 -1.4M306.6 401.2h0.01M306.1 402.5h0.01M306.2 404.3h0.01M307.2 402.8l-0.7 1.2M307.7 404.8l0.3 -1.4M308.0 404.7l-0.6 1.2M307.6 399.1l0.2 -1.2M308.5 399.4l-0.9 2.0M308.2 398.7h0.01M308.9 405.8l0.3 -2.1M308.9 405.9l0.5 1.3M309.9 401.1l-0.6 -2.1M309.5 396.9l-0.8 -1.6M309.9 411.4h0.01M310.1 400.8h0.01M310.7 404.2l0.1 -1.1M310.5 400.7h0.01M311.1 396.3l-0.4 -1.1M310.9 410.6l-0.9 1.2M311.7 411.2h0.01M311.6 401.3l0.4 -1.9M311.6 408.5l-0.7 -2.0M311.4 406.6h0.01M313.1 399.2l0.9 1.9M312.6 399.4l-0.2 -1.4M312.4 393.3h0.01M312.2 398.3l-0.8 -1.4M313.7 406.6h0.01M313.6 400.2l0.2 1.8M313.4 403.9l0.6 1.3M313.5 395.6h0.01M315.0 397.2h0.01M314.4 399.5l-0.1 -1.7M314.3 405.4l0.0 -2.2M314.2 401.3l-0.1 2.1M315.2 399.9l0.2 1.8M315.3 404.2h0.01M315.7 398.3l-0.1 -2.0M315.8 410.1h0.01M316.9 408.0h0.01M317.0 409.5l0.3 1.8M316.6 399.2l0.0 1.9M316.9 408.4l0.3 -1.2M317.6 407.8l0.1 1.4M317.5 404.2h0.01M317.9 401.3l-0.4 -2.2M317.3 406.2h0.01M318.7 395.4h0.01M318.9 402.1h0.01M318.5 411.6h0.01M318.7 401.1h0.01M319.6 407.0h0.01M319.8 408.2h0.01M319.5 399.0l0.8 1.4M319.2 409.5l-0.2 2.1M320.7 399.3l0.6 1.8M320.5 412.1l0.2 2.0M320.6 409.4h0.01M321.1 401.8l-0.2 -1.2M322.0 406.1h0.01M322.0 408.1l0.8 -1.5M321.6 396.9h0.01M321.7 398.3l-0.8 -1.5M322.7 401.5l-0.1 2.1M322.4 395.4h0.01M322.9 398.3l0.0 -1.5M322.6 405.1h0.01M323.6 399.8h0.01M323.2 408.9l-0.9 1.1M323.2 401.0l0.1 -2.0M323.7 398.3h0.01M324.4 409.6l-0.1 2.0M324.4 402.8l0.8 -1.4M324.4 402.0l0.3 -1.7M325.0 400.0l-0.7 -2.0M325.7 408.5l0.4 -1.7M326.0 393.5l0.1 1.3M325.4 404.6l-0.4 1.7M326.0 408.8l0.0 -1.1M326.3 397.6l0.0 1.1M326.9 404.2l-0.2 1.4M326.3 395.0h0.01M326.2 405.1l0.8 -2.2M327.2 401.0l0.1 -1.2M327.3 401.4l0.7 -1.1M327.1 395.7l0.8 1.8M327.8 402.1l-0.7 -1.9M328.2 394.3h0.01M328.3 405.4l0.1 1.8M329.1 402.9l-0.2 -2.1M328.3 403.9h0.01M329.4 397.0l0.1 1.5M329.3 407.8l-0.6 -1.5M329.2 399.8l-0.1 2.2M329.9 402.7h0.01M330.4 402.5l0.8 -1.9M331.0 395.7h0.01M330.7 401.8h0.01M330.2 400.3l-0.3 1.6M331.8 396.5l0.3 -2.0M331.9 398.2l0.1 -2.1M331.4 410.9l-0.6 -1.6M331.5 398.5l-0.4 2.2M332.3 402.9l-0.9 -1.5M332.3 404.4l-0.1 1.6M332.8 402.3h0.01M332.3 391.0h0.01M333.4 398.2l-0.5 -1.5M333.7 399.8l0.1 1.9M333.8 401.7l-0.5 -1.5M333.9 394.2l-0.7 -2.1M334.7 394.0h0.01M334.9 393.5l0.6 1.7M334.2 403.5l-0.2 1.3M334.9 403.1l0.8 1.7M335.5 394.5h0.01M335.9 409.5l0.0 1.1M335.8 403.0l0.4 -1.4M335.2 401.3h0.01M336.9 399.7h0.01M336.7 399.7h0.01M336.5 399.5h0.01M336.2 397.4h0.01M337.3 406.5l0.1 1.6M337.5 401.5h0.01M337.7 404.2h0.01M337.9 403.8l0.3 -1.3M338.6 400.0h0.01M338.4 409.2l0.3 -1.3M338.4 396.8l-0.1 2.2M338.2 400.8h0.01M339.3 399.5h0.01M339.9 391.0l-0.8 -1.2M339.7 399.6l0.4 -2.1M339.3 397.2l0.6 -1.5M340.7 396.6h0.01M340.4 408.8l0.2 -1.4M340.9 409.7l0.0 -1.8M340.9 395.8l-0.3 1.2M341.9 403.1l0.6 -2.0M341.9 402.8h0.01M341.5 398.3l0.6 2.2M341.7 402.8l-0.2 1.0M343.0 407.4l0.0 -1.6M342.3 407.3l-0.7 -1.5M342.8 400.6h0.01M342.2 397.3h0.01M343.8 395.8l-0.1 -1.9M343.9 400.1h0.01M343.6 398.5h0.01M343.8 399.1l-0.4 1.8M344.4 410.8h0.01M344.3 402.1h0.01M345.1 394.9h0.01M345.1 411.3l-0.4 1.5M345.8 407.2h0.01M346.1 400.9h0.01M345.4 403.5l0.1 -2.1M345.8 401.0h0.01M346.5 396.4l0.7 -1.5M346.7 402.0h0.01M347.0 396.1l-0.0 -1.7M346.4 397.9h0.01M347.6 397.5l-0.9 2.1M347.2 399.4l-0.5 -1.9M347.5 403.2h0.01M347.7 396.2l-0.2 1.3M349.1 407.7l-0.6 1.7M348.5 399.9h0.01M348.9 403.6h0.01M348.3 401.0l-0.2 1.6M349.3 394.7l0.1 1.2M350.0 402.1h0.01M350.0 407.9h0.01M349.4 402.5l-0.8 2.0M350.2 407.3l0.1 -1.5M350.8 403.3h0.01M350.6 397.8l-0.2 1.1M350.8 401.0h0.01M351.9 395.4l-0.7 -1.7M351.9 391.1h0.01M351.8 398.9l0.6 -1.6M351.6 396.3l-0.5 -2.0M352.1 408.0l0.5 1.1M353.0 395.9h0.01M352.9 400.0h0.01M352.3 402.9h0.01M353.7 404.9h0.01M354.0 394.9l-0.3 -2.1M353.5 397.6h0.01M353.5 402.5h0.01M354.1 397.0h0.01M354.2 407.3l0.2 2.0M354.6 401.3l-0.5 2.1M355.1 400.0h0.01M355.9 402.3h0.01M355.7 409.8l-0.3 1.9M356.0 397.7l0.3 2.1M355.9 409.4h0.01M356.5 405.0l-0.3 1.1M356.4 401.5h0.01M356.5 405.7l-0.9 -2.1M356.2 395.7h0.01M357.5 400.5l0.3 -1.3M357.2 400.5h0.01M357.7 397.3l-0.2 1.1M357.7 405.3l0.5 1.9M359.1 393.1l-0.8 -2.1M359.0 403.6l-0.5 1.9M358.4 396.6l0.7 1.2M358.4 393.4h0.01M359.3 401.1l-0.1 -2.1M359.3 407.6l-0.4 1.3M359.2 410.4l-0.6 -1.6M359.2 410.2l0.8 2.0M360.7 398.7l0.4 -1.7M360.8 403.6l-0.3 1.8M360.4 402.7l0.6 1.4M360.7 395.7l0.2 1.7M361.4 399.9l0.7 1.8M361.7 395.7l0.1 -1.3M361.8 402.5l-0.9 -1.5M361.2 395.1h0.01M362.5 400.3h0.01M362.8 403.5h0.01M362.4 401.2h0.01M362.4 407.7l-0.5 -1.4M363.4 411.0l-0.2 1.8M363.1 407.6l-0.7 -1.4M363.5 403.6h0.01M363.2 404.6h0.01M364.6 391.9h0.01M364.5 398.8h0.01M365.0 393.9l0.2 -1.3M364.3 392.3l-0.2 1.4M365.4 407.8h0.01M366.0 405.1h0.01M365.7 400.1l-0.5 1.7M365.7 405.2l-0.4 -1.1M366.7 405.9l0.5 -1.3M366.5 395.7l-0.8 1.6M366.7 395.2l-0.2 -1.8M366.7 405.5h0.01M367.4 402.2h0.01M367.4 408.9l-0.3 -1.2M367.8 406.5l-0.0 -1.1M368.0 402.6l-0.4 1.8M368.9 403.1l-0.1 -1.3M369.1 402.5l0.7 2.1M369.1 393.9h0.01M368.8 401.1l-0.8 1.9M369.2 393.2l0.1 1.8M370.0 405.1h0.01M369.9 402.2l0.2 1.5M369.3 398.7l0.7 -1.5M370.4 415.7h0.01M370.2 402.0h0.01M370.2 397.3l-0.5 -1.7M370.5 404.9l-0.0 1.7M371.3 407.0l0.7 1.1M371.4 412.2l0.3 -1.7M371.1 395.3h0.01M371.5 401.0h0.01M372.6 398.4l0.1 1.9M373.0 404.9h0.01M372.5 403.4l0.7 -1.6M372.5 406.3l-0.4 -1.8M374.0 405.0h0.01M373.3 400.4l0.2 2.0M373.9 393.8h0.01M373.4 401.5l0.4 1.7M375.1 404.3l-0.9 1.5M374.6 399.0l-0.6 -1.7M374.7 409.0h0.01M374.5 403.5l-0.4 -2.2M375.4 403.7h0.01M375.7 404.1l-0.4 2.1M375.8 404.1h0.01M375.2 402.0h0.01M376.6 407.5l0.8 1.8M376.9 402.6h0.01M377.0 403.2l-0.5 -1.4M376.9 400.9l0.6 1.0M377.4 401.3l0.8 -1.6M377.6 395.5l-0.2 1.1M378.1 396.5l-0.7 -1.5M377.9 403.7h0.01M378.5 400.9l0.5 1.6M378.4 399.1h0.01M378.7 394.8l-0.0 1.7M378.4 392.8l-0.4 -1.3M379.2 396.8h0.01M379.5 407.9l-0.8 -2.1M379.1 406.9h0.01M379.4 399.7l-0.0 1.4M380.5 402.7h0.01M380.3 401.6l0.9 -1.5M380.8 410.2l-0.4 1.0M380.5 394.8l0.7 -1.6M381.9 402.3h0.01M381.6 397.4h0.01M382.0 405.1l-0.7 -2.0M381.9 401.2l0.8 1.6M382.1 406.9l0.5 1.2M382.9 404.8l-0.5 2.1M382.9 394.1l-0.1 -1.8M382.7 392.3h0.01M383.6 398.8l-0.6 -1.4M383.7 398.9l-0.8 1.4M383.2 411.8l0.2 -1.4M383.4 415.7h0.01M385.0 396.9l-0.4 2.0M384.2 402.8l-0.6 -1.2M385.0 404.1l-0.1 1.8M384.6 395.5h0.01M385.7 400.1h0.01M386.0 404.0h0.01M385.6 397.3l-0.9 -1.7M385.4 401.7h0.01M386.9 403.1l-0.8 1.3M386.5 402.6h0.01M386.7 401.2l-0.1 -1.3M386.7 400.9l-0.8 -1.3M387.9 403.2h0.01M387.4 404.1h0.01M388.0 402.6l0.8 1.5M387.9 393.7l0.0 1.8M388.4 406.4h0.01M388.2 409.1l-0.7 -1.5M388.4 398.8h0.01M388.7 399.8l-0.7 2.0M389.9 402.8h0.01M389.5 401.4l-0.7 1.1M389.3 395.0h0.01M389.8 397.7l0.0 -2.1M390.9 403.3l-0.7 -1.2M391.0 402.5l-0.1 -1.1M390.9 399.8l0.7 1.6M390.6 407.1h0.01M391.2 407.5h0.01M391.9 394.9h0.01M391.7 403.8l0.3 -1.2M391.8 405.7l-0.3 1.2M392.3 394.6h0.01M392.4 401.1h0.01M392.7 397.5h0.01M392.1 406.6l-0.7 -1.5M393.2 397.3h0.01M393.8 401.2l0.3 -2.1M393.4 394.0h0.01M393.2 410.6l-0.1 1.7M394.6 417.7l-0.1 1.5M394.3 413.9l-0.6 1.6M394.3 418.5l-0.7 2.2M394.3 413.4l-0.1 -1.5M395.1 422.4l0.1 1.0M395.7 423.1l-0.4 -2.1M395.3 417.0l0.7 2.1M395.6 409.7l0.6 -1.5M396.7 420.2h0.01M396.8 416.0h0.01M397.1 409.8l0.5 -1.3M396.9 414.0h0.01M398.0 419.8h0.01M397.5 417.4l0.8 2.1M397.8 410.1l0.6 -1.1M397.3 412.0h0.01M399.1 412.7l0.2 -1.1M398.9 421.2l0.4 -1.6M398.3 425.8h0.01M398.2 423.6l0.1 1.4M400.1 418.8l0.6 1.7M399.9 422.9h0.01M399.9 427.9l0.2 -1.4M399.9 422.6l-0.6 2.1M401.1 425.7l-0.3 -1.5M401.1 423.6l-0.6 1.6M400.3 418.5h0.01M400.6 413.9l0.4 1.5M401.5 425.0l0.2 1.3M402.0 424.8l-0.5 1.2M401.8 420.7l-0.4 2.0M401.9 420.1h0.01M402.1 415.6h0.01M402.7 417.1l-0.1 2.1M402.5 415.6h0.01M402.2 423.5l-0.2 1.8M403.8 417.7l0.7 -1.2M403.1 417.1h0.01M404.1 418.1h0.01M403.7 413.1l0.3 -1.2M405.1 421.4h0.01M404.9 423.8h0.01M405.0 408.9l0.8 1.2M404.5 421.1l0.1 -2.0M405.6 413.9l0.6 -2.2M405.8 421.6h0.01M406.1 414.5h0.01M405.5 418.3h0.01M406.6 420.3l-0.9 -1.7M406.9 422.0l0.2 -2.0M406.9 420.8l0.1 -1.6M406.1 425.3h0.01M408.0 411.7l0.6 1.3M407.1 414.8l0.1 1.9M407.4 419.6h0.01M407.5 418.6h0.01M408.8 425.4h0.01M408.8 422.1h0.01M408.9 411.4h0.01M408.6 419.7h0.01M409.3 418.5l-0.7 1.3M409.5 410.5h0.01M409.4 429.0l-0.6 1.4M409.5 419.7l-0.6 1.3M410.5 410.5h0.01M411.0 420.7h0.01M410.9 421.4l0.7 -1.7M410.6 411.7l0.0 -1.3M411.4 420.7l-0.1 2.1M411.4 421.3l-0.3 -1.0M411.1 416.7l-0.7 -1.9M412.0 422.6l-0.6 -1.6M412.6 412.2h0.01M412.9 423.1h0.01M413.1 411.1l-0.7 1.4M412.5 421.8l-0.4 1.2M413.5 426.1l-0.2 1.7M414.0 419.8h0.01M414.0 418.6l-0.1 1.7M413.5 411.8h0.01M414.7 422.2l0.2 -1.7M414.9 417.7l-0.2 1.4M414.8 425.4l0.8 -1.2M415.0 421.0l-0.6 1.4M416.0 424.7h0.01M415.7 416.1h0.01M415.9 410.2l0.8 1.8M415.2 411.9l-0.3 -1.4M416.5 425.7l-0.3 2.1M416.4 415.3h0.01M416.4 413.7l0.1 1.9M416.9 412.2l-0.8 1.2M417.3 416.4h0.01M417.7 417.6h0.01M417.9 418.1h0.01M417.9 422.1h0.01M418.2 412.5l0.1 -2.0M418.5 422.2l0.1 -1.5M419.0 419.2l-0.7 -1.1M418.4 427.4h0.01M419.2 418.7h0.01M419.6 419.6h0.01M419.4 412.5h0.01M419.5 417.2h0.01M420.4 416.8l0.5 -1.9M420.8 421.1h0.01M420.8 428.2l0.0 -1.2M420.8 428.2h0.01M421.3 400.7h0.01M421.1 409.5l-0.9 2.0M421.9 396.4h0.01M421.3 396.7l0.4 1.4M423.0 405.0l0.7 -1.4M422.2 405.3h0.01M422.3 398.1l-0.9 2.2M422.8 393.3h0.01M423.8 413.1h0.01M423.2 404.4l-0.0 -1.0M423.5 392.7h0.01M423.6 400.1l-0.8 -1.8M424.2 401.2l-0.2 -1.1M424.6 401.4l-0.1 1.8M425.0 400.1l0.1 1.7M424.2 395.8l0.8 2.2M425.7 397.9h0.01M425.8 403.8h0.01M425.8 396.3l0.4 -1.6M425.8 401.4l-0.5 -2.2M426.7 397.4l-0.4 -1.5M426.3 393.6l0.3 1.4M426.7 404.2l0.1 1.9M427.1 399.4h0.01M427.3 400.1l-0.4 1.6M428.0 403.8l-0.3 2.1M427.3 408.7h0.01M428.1 399.3l0.6 -2.0M428.3 400.8l-0.2 -1.3M429.0 397.4h0.01M428.7 401.0h0.01M428.7 405.9l-0.2 2.1M429.6 400.5h0.01M429.1 408.9h0.01M429.2 409.7h0.01M429.2 400.3l-0.6 2.0M430.2 408.3h0.01M430.2 409.0l0.9 -1.6M430.2 398.0l-0.7 -2.1M430.1 409.0l0.8 1.6M431.7 392.3l0.1 -1.1M431.7 401.7h0.01M431.9 408.8h0.01M431.1 411.0l-0.4 2.1M433.0 408.4h0.01M432.8 403.5l-0.4 1.0M432.4 396.6l-0.5 -1.7M432.8 396.5h0.01M434.1 410.3h0.01M433.5 402.3l0.4 1.1M434.0 393.0l0.4 -2.1M434.0 403.2h0.01M434.9 405.9h0.01M434.6 401.3l0.8 -2.2M434.7 403.5l-0.3 2.1M435.0 407.7h0.01M435.3 409.9l0.1 1.5M435.8 395.3h0.01M435.8 404.0l0.6 -1.7M435.3 407.2l-0.2 1.4M436.3 393.4h0.01M436.7 404.7l-0.7 -1.0M436.4 405.0h0.01M436.2 398.1l0.2 1.5M437.8 397.3h0.01M437.2 402.5h0.01M437.5 398.5h0.01M437.4 399.9h0.01M438.3 400.4l-0.8 1.4M438.4 409.9l0.9 -1.7M438.3 392.4l-0.5 -1.8M438.3 405.0l0.9 -1.5M439.5 392.9l0.8 2.2M439.2 404.7h0.01M440.1 400.4l0.5 -1.4M439.9 403.0l-0.7 -1.8M440.2 397.4l0.4 1.1M440.5 402.5h0.01M440.3 401.9l0.3 -1.1M440.6 399.0l-0.7 1.5M441.9 401.0h0.01M441.2 393.2l-0.7 1.3M441.2 404.1l-0.5 -1.4M441.5 397.8h0.01M442.6 392.2h0.01M442.3 407.9l-0.0 1.6M443.1 405.7l-0.3 -1.2M442.6 401.6h0.01M443.3 394.9l-0.6 1.1M443.6 394.2l-0.8 1.0M443.4 399.7l0.9 1.2M443.2 400.4h0.01M444.1 407.6l0.8 1.5M444.8 401.2l-0.4 -1.7M444.7 399.3h0.01M445.0 399.6l0.4 -2.1M446.0 409.2h0.01M446.0 394.9l0.4 1.0M445.5 393.6h0.01M445.7 394.0l0.6 2.2M446.1 406.1h0.01M446.6 404.2l0.4 -2.1M446.7 407.3h0.01M447.1 402.6l0.6 -1.2M447.4 398.2h0.01M447.1 399.0l0.7 1.9M447.1 396.4l-0.3 1.4M447.7 400.4l0.6 -2.1M448.2 400.2l0.5 2.0M448.6 403.3l-0.7 -2.0M448.3 407.6l0.1 -2.1M448.5 399.0h0.01M450.1 408.6h0.01M449.2 404.5l-0.3 -1.1M449.4 396.1l0.8 1.8M449.6 412.0l0.5 -2.2M450.6 409.9h0.01M450.7 394.3h0.01M450.3 410.4l-0.3 -1.3M450.3 401.7l0.3 -1.4M451.5 401.4l-0.4 1.2M451.8 404.4l-0.2 -1.4M451.9 403.2h0.01M451.8 395.8h0.01M452.9 399.9h0.01M452.3 398.0l0.1 1.9M452.3 406.4l-0.7 1.1M452.9 403.1l0.7 -1.6M453.4 394.2l0.4 -1.2M453.5 392.1h0.01M453.7 397.9h0.01M453.3 402.7l-0.4 1.5M454.3 396.0l0.8 1.8M454.9 406.0l-0.1 2.2M455.1 405.3h0.01M454.4 401.5l0.7 -1.6M456.0 407.1l0.4 1.8M455.8 403.0l0.9 -1.1M455.8 392.9h0.01M455.8 392.8h0.01M457.0 402.1h0.01M456.6 403.4l-0.4 -1.0M456.4 398.9l0.6 -1.6M456.2 391.7h0.01M457.9 405.8h0.01M457.3 402.8l-0.3 1.4M457.3 407.9l-0.0 1.9M457.3 402.9l-0.1 -1.1M458.7 409.2h0.01M458.9 400.8h0.01M458.7 393.9l0.0 -1.1M458.2 394.0l-0.6 -1.0M459.5 400.5l0.2 -1.8M459.8 405.1l-0.5 -1.8M459.8 396.1l0.5 1.1M459.4 408.2l0.1 1.1M460.3 401.1h0.01M461.1 409.2h0.01M460.8 403.2h0.01M460.1 398.0l0.1 -1.3M462.0 398.0h0.01M461.6 397.9l-0.1 1.5M461.6 400.6l-0.4 -1.2M461.5 400.6h0.01M462.3 398.8h0.01M462.9 399.5l0.8 -1.6M463.0 399.8l-0.8 -1.2M462.7 398.7l-0.7 1.8M464.0 393.8l-0.7 -1.0M463.4 397.1l-0.2 -1.1M463.5 399.8h0.01M464.1 395.8l0.4 1.4M464.2 394.1l0.1 -1.9M464.6 392.1h0.01M464.9 402.0h0.01M464.3 399.2h0.01M465.8 403.1h0.01M466.1 411.6h0.01M465.8 400.7l-0.5 1.5M466.1 400.4h0.01M466.3 401.0l-0.1 -1.6M466.2 398.7h0.01M466.8 404.1h0.01M466.9 396.3h0.01M467.7 409.4h0.01M467.9 412.2h0.01M467.5 403.0l-0.8 1.8M467.3 398.8l-0.6 -1.8M469.0 405.8h0.01M468.9 402.0l-0.8 1.6M468.9 410.6l-0.0 2.2M468.9 400.9l-0.7 1.5M469.9 398.1l-0.4 -2.2M470.0 404.3l-0.2 1.4M469.8 402.9h0.01M469.6 398.4h0.01M470.9 399.5l-0.5 -2.1M470.3 403.0l-0.1 -2.2M470.3 410.3l0.2 -1.8M470.3 391.7h0.01M472.1 400.4l-0.6 -1.9M471.6 401.3h0.01M472.0 409.6l0.3 1.4M471.9 398.1l0.0 1.2M473.0 402.0l-0.0 1.3M472.5 400.5h0.01M473.0 409.9l0.7 -1.6M472.8 397.5h0.01M473.9 396.3l-0.7 2.0M473.8 403.7h0.01M474.1 402.2l0.7 -1.6M474.0 399.8l0.7 2.0M474.8 396.0l-0.5 -1.8M474.8 398.8l-0.4 -1.3M474.7 403.2l0.8 1.3M474.7 401.7h0.01M476.0 409.5l0.8 2.0M476.0 392.8l0.2 -1.3M476.0 412.3h0.01M475.9 398.4h0.01M476.4 402.3h0.01M476.2 401.2h0.01M476.8 394.2h0.01M476.3 395.9l0.4 -1.2M477.7 408.1l0.8 1.3M477.8 407.6l-0.8 2.2M477.2 403.3l0.5 1.2M477.2 406.6h0.01M478.6 407.7l0.8 -1.6M478.9 409.6h0.01M478.5 395.3l-0.3 -1.4M478.3 401.1l-0.4 -1.2M479.6 393.3h0.01M480.1 398.0l0.5 1.1M479.3 407.2l0.7 -1.3M479.2 398.8l0.3 -1.4M480.5 410.0h0.01M480.5 399.3h0.01M480.1 402.2l-0.8 -1.9M480.7 408.9l0.4 -1.6M481.4 405.9h0.01M482.0 404.6l-0.7 1.8M481.9 396.1l0.2 -1.3M482.0 405.2l0.7 -2.2M482.2 401.4l-0.5 2.1M482.6 397.0l-0.7 -1.3M482.4 400.3h0.01M482.6 407.5h0.01M483.9 398.6h0.01M483.5 397.6l-0.6 -1.1M483.4 407.4l-0.7 -2.0M483.1 401.8h0.01M484.2 393.0h0.01M484.8 393.4l-0.5 -1.2M484.7 409.6l-0.5 -1.1M484.5 402.1h0.01M485.5 401.3l0.4 -1.3M485.7 401.6l0.8 1.4M485.2 402.2l-0.1 -1.1M485.2 398.8l-0.2 1.6M486.8 394.1h0.01M486.5 406.0l-0.3 -1.7M487.1 397.7l0.0 -1.0M486.3 410.4l-0.1 2.0M487.2 396.0h0.01M487.5 404.5l-0.8 1.2M488.0 406.4h0.01M488.0 401.3l-0.3 1.3M488.2 411.3l0.8 2.1M488.1 396.7l0.2 -1.7M488.1 409.1l-0.1 1.4M488.7 404.5h0.01M490.1 403.6l-0.7 1.3M489.5 408.5l0.0 -1.1M489.9 404.1h0.01M489.4 411.7l0.1 2.1M490.3 402.2h0.01M491.0 406.2l-0.1 1.3M490.2 402.2h0.01M490.7 406.0l0.8 -1.4M491.9 406.3l-0.0 -1.6M492.0 394.6h0.01M491.8 404.0h0.01M491.8 399.0l-0.2 -1.4M492.5 400.4l-0.1 -1.0M492.5 412.4h0.01M492.6 406.6h0.01M492.6 405.2l-0.7 -1.8M493.8 400.4h0.01M493.8 402.5l0.8 -1.3M493.3 399.2l0.1 -1.2M493.2 400.2l0.1 -1.1M494.6 410.9h0.01M494.4 404.3h0.01M494.9 403.4h0.01M494.4 393.7l-0.3 1.2M495.9 403.1l0.7 1.9M496.0 404.0h0.01M495.7 409.0l-0.8 -1.9M495.2 406.7h0.01M496.8 410.6l-0.8 1.6M497.1 398.3h0.01M496.7 403.0l-0.3 -1.6M496.6 396.9h0.01M497.7 399.1h0.01M498.0 406.2l-0.3 2.1M497.2 405.9l-0.0 -1.2M497.6 408.6h0.01M498.2 394.1l-0.8 1.6M499.0 401.0h0.01M498.7 402.6h0.01M498.5 406.9l0.7 -1.6M499.3 400.9h0.01M499.3 403.5l0.3 1.6M499.8 397.5l-0.1 -1.1M499.8 409.3h0.01M500.5 398.6l0.0 -1.7M500.1 405.4h0.01M500.9 405.8l0.3 2.1M500.9 392.6h0.01M502.0 402.4l0.7 2.2M501.5 400.1h0.01M502.1 399.2l0.5 -1.3M501.2 400.3h0.01M503.1 402.3h0.01M502.3 409.4h0.01M503.0 405.3l-0.2 -1.3M502.2 394.8l0.1 -1.9M503.6 406.7l0.7 1.7M503.6 403.6l-0.6 1.1M503.3 390.9l0.5 2.0M503.3 402.0l0.7 -2.1M504.4 396.8h0.01M504.9 401.8l-0.3 -1.1M504.7 401.5l0.5 -2.1M504.4 393.0l0.7 2.0M505.4 398.9h0.01M505.3 407.4h0.01M505.8 397.6l-0.1 -1.5M505.2 397.1h0.01M506.7 407.9l-0.3 2.1M506.2 396.8l-0.6 -1.6M506.3 407.5h0.01M506.2 403.2l0.2 -1.2M507.5 400.9l0.7 -1.2M508.1 393.4l0.4 -2.1M507.3 397.2l-0.8 -2.0M507.3 403.1l0.9 -1.3M509.0 397.4l0.4 -1.6M508.3 397.2l-0.2 -1.4M508.4 404.0h0.01M508.2 411.0l0.6 1.7M509.8 397.3l-0.5 2.2M509.8 408.7l-0.1 -2.0M509.2 401.0l0.4 -2.0M509.8 405.7h0.01M511.1 402.9l-0.7 1.6M510.8 395.3l0.5 1.4M511.0 408.0h0.01M510.8 400.0l0.5 -1.8M512.0 390.6h0.01M511.9 405.8l0.3 1.0M511.7 407.4l-0.5 2.1M511.6 408.2l0.3 -1.3M512.6 399.8l-0.1 1.3M512.6 399.7l-0.4 1.5M512.3 401.1l-0.6 1.2M512.8 399.7h0.01M514.0 405.6l0.6 -2.0M513.5 400.6l-0.8 1.1M513.8 408.3l0.6 1.9M513.4 398.0l-0.8 1.1M514.3 403.4l-0.2 -2.0M514.8 402.2l0.7 1.0M514.2 405.9l0.8 -2.1M514.6 394.7h0.01M515.3 409.6h0.01M515.8 395.3h0.01M515.6 400.3l-0.2 -1.2M516.0 409.3l-0.1 1.7M517.1 400.3l-0.0 -1.8M517.0 394.1l0.1 2.0M517.0 404.2h0.01M516.5 397.4l-0.8 1.1" stroke="#000" stroke-width="1.5" stroke-linecap="round" fill="none"/>
<text transform="translate(279,396.1) rotate(-90)" font-size="8" font-weight="bold" text-anchor="middle" textLength="33.6" lengthAdjust="spacingAndGlyphs" fill="#000" stroke="#000" stroke-width="0.25">log2ratio</text>
<text x="365.8" y="458.7" font-size="7.8" font-weight="bold" textLength="81.5" lengthAdjust="spacingAndGlyphs" fill="#000" stroke="#000" stroke-width="0.25">chromosome position</text>
</svg></body></html>
